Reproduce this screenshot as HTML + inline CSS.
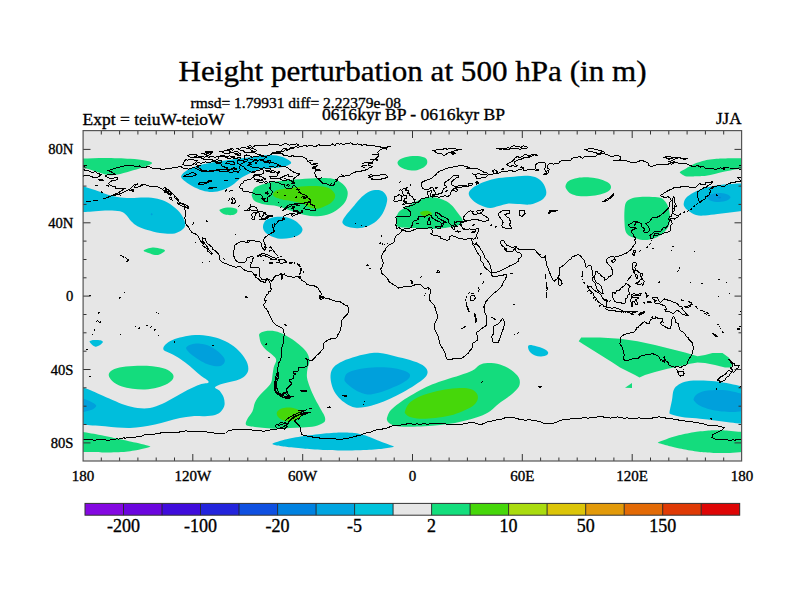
<!DOCTYPE html>
<html><head><meta charset="utf-8"><title>Height perturbation at 500 hPa</title>
<style>html,body{margin:0;padding:0;background:#fff;overflow:hidden}svg{display:block}text{font-family:"Liberation Serif",serif;fill:#000;stroke:#000;stroke-width:.35px}</style></head>
<body>
<svg width="800" height="600" viewBox="0 0 800 600">
<rect width="800" height="600" fill="#fff"/>
<defs><clipPath id="c"><rect x="83" y="131" width="659" height="330"/></clipPath></defs>
<rect x="83" y="131" width="659" height="330" fill="#e6e6e6"/>
<g clip-path="url(#c)">
<path fill="#14dc7d" d="M70 158.5C72.2 157.6 77.2 158.7 83 158.6C88.8 158.5 97.2 158 105 158C112.8 158 123.3 158.4 130 158.8C136.7 159.2 141.3 159.8 145 160.5C148.7 161.2 152.4 162 152 163.2C151.6 164.4 146.2 166.2 142.5 167.5C138.8 168.8 134.2 170 130 171.2C125.8 172.4 121.2 173.9 117.5 174.5C113.8 175.1 111.2 175.6 107.5 175C103.8 174.4 99.1 172.4 95 171.2C90.9 169.9 87.2 168.7 83 167.5C78.8 166.3 72.2 165.5 70 164C67.8 162.5 67.8 159.4 70 158.5Z"/>
<path fill="#00bedc" d="M70 183C72.2 178.7 78.8 185 83 186.2C87.2 187.4 91.3 188.8 95 190C98.7 191.2 101.2 192.5 105 193.7C108.8 194.9 113.3 196.3 117.5 197C121.7 197.7 125.4 197.9 130 198C134.6 198.1 140.4 197.4 145 197.5C149.6 197.6 153.8 197.9 157.5 198.7C161.2 199.5 164.2 200.6 167.5 202.5C170.8 204.4 174.8 207.3 177.5 210C180.2 212.7 182.4 216 183.7 218.7C184.9 221.4 185.6 224.1 185 226.2C184.4 228.3 182.1 229.9 180 231.2C177.9 232.4 175.8 233.4 172.5 233.7C169.2 234 164.2 233.6 160 233C155.8 232.4 151.2 231.1 147.5 230C143.8 228.9 140.2 227.7 137.5 226.2C134.8 224.7 133.1 223.1 131.2 221.2C129.3 219.3 128.1 216.7 126.2 215C124.3 213.3 123.5 211.9 120 211.2C116.5 210.4 109.6 210.4 105 210.5C100.4 210.6 96.2 211.2 92.5 211.5C88.8 211.8 86.8 211.9 83 212C79.2 212.1 72.2 216.8 70 212C67.8 207.2 67.8 187.3 70 183Z"/>
<path fill="#00a0dc" d="M150.6 214.2L151.7 213L152.8 214.2L151.7 215.4Z"/>
<path fill="#14dc7d" d="M143.7 250.5C144.3 249.6 149.6 247.8 152.5 247.5C155.4 247.2 159.1 248.2 161.2 248.7C163.3 249.2 165.2 249.8 165 250.7C164.8 251.6 161.7 253.5 160 254.2C158.3 254.9 156.9 255.2 155 255C153.1 254.8 150.6 253.8 148.7 253C146.8 252.2 143.1 251.4 143.7 250.5Z"/>
<path fill="#00bedc" d="M181.2 176.2C181.6 174.3 184.4 171.9 187.5 170C190.6 168.1 194.6 166.5 200 165C205.4 163.5 213.3 162.3 220 161.2C226.7 160.1 234.2 159.3 240 158.5C245.8 157.7 250 157.1 255 156.5C260 155.9 265.4 154.9 270 155C274.6 155.1 279 155.7 282.5 157C286 158.3 291.2 161.1 291.2 162.8C291.2 164.5 286 166.1 282.5 167C279 167.9 274.2 167.5 270 168C265.8 168.5 261.2 168.9 257.5 170C253.8 171.1 250.4 173.1 247.5 174.5C244.6 175.9 242.5 176.9 240 178.7C237.5 180.4 235.4 183.1 232.5 185C229.6 186.9 225.8 188.8 222.5 190C219.2 191.2 215.8 191.9 212.5 192C209.2 192.1 205.8 191.5 202.5 190.5C199.2 189.5 195.4 187.8 192.5 186.2C189.6 184.6 186.9 182.9 185 181.2C183.1 179.5 180.8 178.1 181.2 176.2Z"/>
<path fill="#14dc7d" d="M220 209.5C221.2 208.8 224.8 207.6 227.5 207.5C230.2 207.4 234.6 207.9 236.2 208.7C237.8 209.5 237.6 211.4 237 212.5C236.4 213.6 234.5 214.7 232.5 215C230.5 215.3 227 215.1 225 214.5C223 213.9 221.3 212.5 220.5 211.7C219.7 210.9 218.8 210.2 220 209.5Z"/>
<path fill="#14dc7d" d="M252 193.7C252.5 192.2 252.8 189.2 255 187.5C257.2 185.8 261.2 184.8 265 183.7C268.8 182.6 272.5 181.9 277.5 181.2C282.5 180.5 288.8 180 295 179.5C301.2 179 308.8 178.3 315 178.2C321.2 178.1 327.9 177.8 332.5 178.7C337.1 179.6 340 181.6 342.5 183.7C345 185.8 346.9 188.5 347.5 191.2C348.1 193.9 347.4 197.3 346.2 200C344.9 202.7 342.7 205.2 340 207.5C337.3 209.8 333.8 212.2 330 213.7C326.2 215.1 321.7 216 317.5 216.2C313.3 216.4 309.2 215.8 305 215C300.8 214.2 297.1 212.7 292.5 211.2C287.9 209.7 282.1 207.3 277.5 206.2C272.9 205.1 268.8 205.3 265 204.5C261.2 203.7 257.2 202.5 255 201.2C252.8 199.9 252.5 197.8 252 196.5C251.5 195.2 251.5 195.2 252 193.7Z"/>
<path fill="#46d70a" d="M273 193.7C273.4 192.5 274.7 190.9 277.5 190C280.3 189.1 285.4 188.6 290 188C294.6 187.4 300 186.5 305 186.2C310 185.9 315.8 185.8 320 186.2C324.2 186.6 327.5 187.3 330 188.7C332.5 190.1 334.4 192.6 335 194.5C335.6 196.4 334.9 198.2 333.7 200C332.4 201.8 330.2 203.6 327.5 205C324.8 206.4 320.4 208.3 317.5 208.7C314.6 209.1 312.5 208.3 310 207.5C307.5 206.7 305.4 204.8 302.5 203.7C299.6 202.6 295.8 201.9 292.5 201.2C289.2 200.5 285.4 200.2 282.5 199.5C279.6 198.8 276.6 198 275 197C273.4 196 272.6 194.9 273 193.7Z"/>
<path fill="#00bedc" d="M263 226.2C263.2 224.2 264.2 221.5 266.2 220C268.2 218.5 271.9 217.5 275 217C278.1 216.5 281.9 216.5 285 217C288.1 217.5 291.2 218.7 293.7 220C296.2 221.3 298.5 223.3 300 225C301.5 226.7 302.7 228.3 302.5 230C302.3 231.7 300.8 233.7 298.7 235C296.6 236.3 293.1 237.4 290 238C286.9 238.6 283.1 239 280 238.7C276.9 238.4 273.7 237.3 271.2 236.2C268.7 235.1 266.4 233.7 265 232C263.6 230.3 262.8 228.2 263 226.2Z"/>
<path fill="#00bedc" d="M342.5 221.2C342.9 219.6 344.5 217.3 346.2 215C347.9 212.7 350.2 210.2 352.5 207.5C354.8 204.8 357.5 201.2 360 198.7C362.5 196.2 365 193.9 367.5 192.5C370 191.1 372.5 190.2 375 190C377.5 189.8 380.5 189.9 382.5 191.2C384.5 192.4 386.4 195.2 387 197.5C387.6 199.8 386.9 202.3 386.2 205C385.4 207.7 384.2 211 382.5 213.7C380.8 216.4 378.7 219.1 376.2 221.2C373.7 223.3 370.6 225 367.5 226.2C364.4 227.4 360.6 228.1 357.5 228.2C354.4 228.3 351 227.6 348.7 227C346.4 226.4 344.7 225.5 343.7 224.5C342.7 223.5 342.1 222.8 342.5 221.2Z"/>
<path fill="#14dc7d" d="M397.5 162.5C397.7 161.2 399.1 159.8 401.2 158.7C403.3 157.6 406.9 156.6 410 156.2C413.1 155.8 417.3 155.8 420 156.2C422.7 156.6 425 157.4 426.2 158.7C427.4 159.9 427.6 162.1 427 163.7C426.4 165.2 424.5 166.9 422.5 168C420.5 169.1 417.7 170.2 415 170.5C412.3 170.8 408.7 170.1 406.2 169.5C403.7 168.9 401.4 167.9 400 166.7C398.6 165.5 397.3 163.8 397.5 162.5Z"/>
<path fill="#14dc7d" d="M396.3 217C396.8 215.7 397.9 212.7 399.5 211.2C401.1 209.7 405.3 207.5 407.5 206.2C409.7 204.9 412.9 203.1 415 202C417.1 200.9 420.4 199.4 422.5 198.7C424.6 198 427.9 197.4 430 197.3C432.1 197.2 435.2 197.5 437.5 198C439.8 198.5 443.9 199.9 446 201C448.1 202.1 450.9 204.4 452.5 206C454.1 207.6 456.2 210.7 457.5 212.5C458.8 214.3 461.3 217.2 462 218.7C462.7 220.2 463.4 222 462.5 223C461.6 224 458.5 225.3 456 226C453.5 226.7 448.3 227.6 445 228C441.7 228.4 436 228.7 432.5 228.7C429 228.7 423.2 228.3 420 228.2C416.8 228.1 412.6 228.1 410 228C407.4 227.9 403.8 227.8 402 227.6C400.2 227.4 398.4 227.1 397.6 226.6C396.8 226.1 396.4 224.9 396.2 224C396 223.1 396.1 221.5 396.1 220.5C396.1 219.5 395.8 218.3 396.3 217Z"/>
<path fill="#46d70a" d="M420 213C420 212.1 422.5 211.3 424 211C425.5 210.7 427.7 210.8 429 211.2C430.3 211.6 432 212.7 432 213.5C432 214.3 430.3 215.6 429 216C427.7 216.4 425.5 216.7 424 216.2C422.5 215.7 420 213.9 420 213Z"/>
<path fill="#00bedc" d="M468.7 193.7C468.7 191.7 470.2 189.9 472.5 188C474.8 186.1 478.8 184.1 482.5 182.5C486.2 180.9 490.4 179.6 495 178.7C499.6 177.8 505 177.5 510 177C515 176.5 520.8 175.7 525 175.7C529.2 175.7 532.1 175.9 535 177C537.9 178.1 540.7 180.3 542.5 182.5C544.3 184.7 545.5 187.8 546 190C546.5 192.2 546.5 194.2 545.5 196C544.5 197.8 542.6 199.6 540 201C537.4 202.4 533.8 204 530 204.5C526.2 205 521.2 204.1 517.5 204C513.8 203.9 510.6 203.4 507.5 203.7C504.4 204 501.6 205.3 498.7 206C495.8 206.7 493.1 208.2 490 208C486.9 207.8 482.9 206.3 480 205C477.1 203.7 474.4 201.9 472.5 200C470.6 198.1 468.7 195.7 468.7 193.7Z"/>
<path fill="#14dc7d" d="M565.5 186C565.8 184.5 566.7 182.3 568.7 181C570.7 179.7 574 178.6 577.5 178C581 177.4 586.1 177.2 590 177.5C593.9 177.8 597.9 178.6 601 179.5C604.1 180.4 607 181.8 608.7 183C610.4 184.2 611 185.7 611 187C611 188.3 610.5 189.8 608.7 191C606.9 192.2 603.1 193.7 600 194.5C596.9 195.3 593.5 195.8 590 196C586.5 196.2 581.9 196.4 578.7 196C575.5 195.6 573 194.7 571 193.7C569 192.7 567.9 191.3 567 190C566.1 188.7 565.2 187.5 565.5 186Z"/>
<path fill="#14dc7d" d="M624.5 210C624.8 206.7 624.9 204.4 626 202.5C627.1 200.6 628.7 199.6 631 198.7C633.3 197.8 636.4 197.3 640 197C643.6 196.7 649 196.8 652.5 197C656 197.2 658.8 197.1 661 198C663.2 198.9 664.7 200.7 666 202.5C667.3 204.3 668 206.2 668.7 208.7C669.4 211.2 670 214.6 670 217.5C670 220.4 669.8 223.5 668.7 226C667.7 228.5 665.6 230.7 663.7 232.5C661.8 234.3 659.8 235.8 657.5 237C655.2 238.2 652.5 239 650 239.5C647.5 240 645 240.2 642.5 240C640 239.8 637.3 238.8 635 238C632.7 237.2 630.3 236.7 628.7 235.5C627.1 234.3 626.2 233.2 625.5 231C624.8 228.8 624.7 226 624.5 222.5C624.3 219 624.2 213.3 624.5 210Z"/>
<path fill="#14dc7d" d="M679.8 172.3C679.9 171.4 684.2 169.4 686 168.4C687.8 167.4 692.8 164.4 695 163.5C697.2 162.6 702.1 161 705 160.4C707.9 159.8 716.5 158.9 720 158.6C723.5 158.3 732.4 158.2 735 158.2C737.6 158.2 739.7 158.2 742 158.2C744.3 158.2 753.5 157.2 755 158.2C756.5 159.2 756.5 165.8 755 167C753.5 168.2 744.6 168.2 742 168.6C739.4 168.9 734.8 169.6 732.5 170C730.2 170.4 724.8 171.5 722.5 172C720.2 172.5 714.8 173.9 712.5 174.4C710.2 174.9 704.8 175.9 702.5 176.1C700.2 176.3 694.5 176.5 692.5 176.5C690.5 176.5 687 176.8 685.5 176.3C684 175.8 679.7 173.2 679.8 172.3Z"/>
<path fill="#00bedc" d="M683.7 203.7C683.9 202.1 684.3 199.9 686 198C687.7 196.1 690.5 194.2 693.7 192.5C696.9 190.8 700.6 189.2 705 188C709.4 186.8 715 185.7 720 185C725 184.3 731.3 183.9 735 183.7C738.7 183.5 738.7 183.7 742 183.7C745.3 183.7 752.8 179.3 755 183.7C757.2 188.1 757.2 205.4 755 210C752.8 214.6 746.2 210.6 742 211C737.8 211.4 734.1 212 730 212.5C725.9 213 721.7 213.5 717.5 214C713.3 214.5 708.6 215.3 705 215.5C701.4 215.7 698.7 215.8 696 215C693.3 214.2 690.5 212.2 688.7 211C686.9 209.8 685.8 208.7 685 207.5C684.2 206.3 683.5 205.3 683.7 203.7Z"/>
<path fill="#00a0dc" d="M707.5 197.5C707.5 196.4 709.2 195.2 711 194.5C712.8 193.8 715.5 193.1 718 193C720.5 192.9 723.9 193.3 726 194C728.1 194.7 730.3 195.9 730.5 197C730.7 198.1 728.9 199.7 727 200.5C725.1 201.3 721.7 201.9 719 202C716.3 202.1 712.9 201.6 711 200.8C709.1 200.1 707.5 198.6 707.5 197.5Z"/>
<path fill="#0a86d8" d="M717.5 197.3C717.5 197 718.7 196.7 719.3 196.7C719.9 196.7 721 197.1 721 197.4C721 197.7 720.1 198.4 719.5 198.4C718.9 198.4 717.5 197.6 717.5 197.3Z"/>
<path fill="#00bedc" d="M70 383C72.2 376.8 79.7 386.3 83 387.5C86.3 388.7 87.2 388.8 90 390C92.8 391.2 96.2 392.8 100 394.5C103.8 396.2 108.3 398.2 112.5 400C116.7 401.8 120.8 403.7 125 405C129.2 406.3 133.3 407.5 137.5 408C141.7 408.5 145.8 408.7 150 408C154.2 407.3 158.3 405.5 162.5 403.7C166.7 401.9 170.8 399.3 175 397C179.2 394.7 183.3 392.1 187.5 390C191.7 387.9 196.5 385.8 200 384.5C203.5 383.2 208.7 383.6 208.7 382C208.7 380.4 203.1 377.6 200 375C196.9 372.4 193.3 368.9 190 366.2C186.7 363.5 183.1 360.8 180 358.7C176.9 356.6 173.9 355.1 171.2 353.7C168.5 352.2 164.7 351.4 163.7 350C162.7 348.6 163.5 346.7 165 345C166.5 343.3 169.6 341.3 172.5 340C175.4 338.7 178.8 337.8 182.5 337C186.2 336.2 190.4 335.1 195 335C199.6 334.9 205.4 335.4 210 336.2C214.6 337 218.6 338.3 222.5 340C226.4 341.7 230.4 343.7 233.7 346.2C237 348.7 240.2 352.1 242.5 355C244.8 357.9 246.6 361 247.5 363.7C248.4 366.4 248.6 369 248 371.2C247.4 373.4 245.7 375.4 243.7 377C241.7 378.6 238.9 379.6 236.2 380.5C233.5 381.4 230.2 381.8 227.5 382.5C224.8 383.2 222.1 383.7 220 384.5C217.9 385.3 215 386.4 215 387.5C215 388.6 218.6 389.5 220 391.2C221.4 392.9 222.9 395.2 223.7 397.5C224.4 399.8 224.9 402.7 224.5 405C224.1 407.3 222.8 409.5 221.2 411.2C219.6 412.9 217.7 414.2 215 415C212.3 415.8 208.8 416 205 416.2C201.2 416.4 196.7 415.9 192.5 416.2C188.3 416.5 184.2 417.2 180 418C175.8 418.8 171.7 420.1 167.5 421.2C163.3 422.3 159.2 423.6 155 424.5C150.8 425.4 146.7 426.1 142.5 426.7C138.3 427.3 134.2 427.9 130 428C125.8 428.1 121.7 427.8 117.5 427.5C113.3 427.2 109.2 426.5 105 426.2C100.8 425.9 96.2 425.7 92.5 425.5C88.8 425.3 86.8 425.1 83 425C79.2 424.9 72.2 432 70 425C67.8 418 67.8 389.2 70 383Z"/>
<path fill="#00a0dc" d="M186.2 347.5C186.7 346.4 188.9 345.1 191.2 344.5C193.5 343.9 196.9 343.4 200 343.7C203.1 344 206.9 344.8 210 346.2C213.1 347.6 216.3 349.9 218.7 352C221.1 354.1 223.7 356.8 224.5 358.7C225.3 360.6 224.7 362.4 223.7 363.7C222.7 364.9 221 366 218.7 366.2C216.4 366.4 212.9 365.8 210 365C207.1 364.2 203.9 362.7 201.2 361.2C198.5 359.7 195.9 357.9 193.7 356.2C191.5 354.5 189.2 352.6 188 351.2C186.8 349.8 185.7 348.6 186.2 347.5Z"/>
<path fill="#00a0dc" d="M70 396C72.2 393.8 79.7 397.8 83 398.7C86.3 399.6 87.8 400.1 90 401.2C92.2 402.3 95.8 404.1 96.2 405.5C96.6 406.9 94.2 408.6 92.5 409.5C90.8 410.4 87.8 410.8 86.2 411.2C84.6 411.6 85.7 411.9 83 412C80.3 412.1 72.2 414.7 70 412C67.8 409.3 67.8 398.2 70 396Z"/>
<path fill="#14dc7d" d="M108.7 375C108.7 373.1 110.2 371.3 112.5 370C114.8 368.7 118.3 367.7 122.5 367C126.7 366.3 132.5 365.8 137.5 365.7C142.5 365.6 147.9 365.7 152.5 366.2C157.1 366.7 161.7 367.4 165 368.7C168.3 369.9 171.2 372 172.5 373.7C173.8 375.4 173.8 377 173 378.7C172.2 380.4 170.1 382.2 167.5 383.7C164.9 385.2 161.2 386.5 157.5 387.5C153.8 388.5 149.2 389.3 145 389.5C140.8 389.7 136.5 389.2 132.5 388.7C128.5 388.1 124.5 387.4 121.2 386.2C117.9 384.9 114.6 383.1 112.5 381.2C110.4 379.3 108.7 376.9 108.7 375Z"/>
<path fill="#00bedc" d="M89.5 341.5C89.6 340.9 92.9 340.1 94 340C95.1 339.9 99.6 340.1 100.5 340.3C101.4 340.5 103 341.5 103 342C103 342.5 100.7 344.5 100 345C99.3 345.5 96.7 346.8 96 346.8C95.3 346.9 93.7 346 93 345.5C92.3 345 89.4 342.1 89.5 341.5Z"/>
<path fill="#14dc7d" d="M70 430C71.3 428 80 431.5 83 432C86 432.5 96.5 434.3 100 435C103.5 435.7 114 437.9 117.5 438.7C121 439.4 131.7 441.7 135 442.5C138.3 443.3 150.2 445.8 150.5 446.5C150.8 447.2 140.3 449.4 137.5 450C134.7 450.6 125.8 451.8 122.5 452C119.2 452.2 108 452.5 105 452.5C102 452.5 94.7 452.1 92.5 452C90.3 451.9 85.2 452 83 452C80.8 452 71.3 454.2 70 452C68.7 449.8 68.7 432 70 430Z"/>
<path fill="#14dc7d" d="M259.5 333.7C260.4 332.6 262.4 331.6 265 331.2C267.6 330.8 271.7 330.6 275 331.2C278.3 331.8 281.7 333.3 285 335C288.3 336.7 292.1 339.1 295 341.2C297.9 343.3 300.4 345.4 302.5 347.5C304.6 349.6 306.3 351.4 307.5 353.7C308.7 356 309.5 358.7 309.5 361.2C309.5 363.7 307.9 366 307.5 368.7C307.1 371.4 306.6 374.4 307 377.5C307.4 380.6 308.7 384 310 387.5C311.3 391 313.1 394.9 315 398.7C316.9 402.4 319.5 406.9 321.2 410C322.9 413.1 324.6 415.4 325 417.5C325.4 419.6 325.4 421.1 323.7 422.5C322 423.9 318.5 425.4 315 426.2C311.5 427 306.7 427.2 302.5 427.5C298.3 427.8 294.2 427.8 290 428C285.8 428.2 281.7 428.7 277.5 428.7C273.3 428.7 268.8 428.3 265 428C261.2 427.7 258.1 427.5 255 427C251.9 426.5 247.4 426.4 246.2 425C244.9 423.6 246.4 421 247.5 418.7C248.6 416.4 251.2 413.9 252.5 411.2C253.8 408.5 253.8 405.2 255 402.5C256.2 399.8 258.1 397.3 260 395C261.9 392.7 264.3 390.8 266.2 388.7C268.1 386.6 270.1 384.8 271.2 382.5C272.2 380.2 272.1 377.5 272.5 375C272.9 372.5 273.1 370 273.7 367.5C274.3 365 276.4 362.1 276.2 360C276 357.9 274.2 356.7 272.5 355C270.8 353.3 268.1 351.9 266.2 350C264.3 348.1 262.3 345.8 261.2 343.7C260.1 341.6 259.8 339.2 259.5 337.5C259.2 335.8 258.6 334.8 259.5 333.7Z"/>
<path fill="#46d70a" d="M277.5 411.2C278.4 410.1 280.4 408.8 282.5 408.2C284.6 407.6 287.5 407.3 290 407.5C292.5 407.7 295.5 408.6 297.5 409.5C299.5 410.4 301.6 411.7 302 413C302.4 414.3 301.4 416.2 300 417.5C298.6 418.8 296 419.9 293.7 420.5C291.4 421.1 288.5 421.5 286.2 421.2C283.9 420.9 281.5 419.7 280 418.7C278.5 417.7 277.4 416.2 277 415C276.6 413.8 276.6 412.3 277.5 411.2Z"/>
<path fill="#00bedc" d="M330.5 377.5C330.4 374.2 330.9 371.2 332.5 368.7C334.1 366.2 336.7 364.4 340 362.5C343.3 360.6 347.9 359 352.5 357.5C357.1 356 362.9 354.4 367.5 353.7C372.1 352.9 375.4 352.6 380 353C384.6 353.4 390 355 395 356.2C400 357.4 405.4 358.5 410 360C414.6 361.5 419.6 363.1 422.5 365C425.4 366.9 427.1 369.1 427.5 371.2C427.9 373.3 427.1 375.2 425 377.5C422.9 379.8 418.8 382.5 415 385C411.2 387.5 406.7 390.2 402.5 392.5C398.3 394.8 394.2 396.8 390 398.7C385.8 400.6 381.7 402.3 377.5 403.7C373.3 405.1 368.8 406.4 365 407C361.2 407.6 358.1 408.1 355 407.5C351.9 406.9 348.9 405.4 346.2 403.7C343.5 402 340.9 400 338.7 397.5C336.5 395 334.4 392 333 388.7C331.6 385.4 330.6 380.8 330.5 377.5Z"/>
<path fill="#00a0dc" d="M344.5 378.7C344.8 377.2 345.3 374.5 347.5 373C349.7 371.5 353.3 370.4 357.5 369.5C361.7 368.6 367.5 367.8 372.5 367.5C377.5 367.2 382.9 367.2 387.5 367.5C392.1 367.8 396.5 368.6 400 369.5C403.5 370.4 407.1 371.7 408.7 373C410.3 374.3 410.5 375.8 409.5 377.5C408.5 379.2 405.8 381.1 402.5 383C399.2 384.9 394.2 387 390 388.7C385.8 390.4 381.2 392 377.5 393C373.8 394 370.8 394.8 367.5 394.5C364.2 394.2 360.4 392.6 357.5 391.2C354.6 389.8 352 387.7 350 386.2C348 384.7 346.4 383.2 345.5 382C344.6 380.8 344.2 380.2 344.5 378.7Z"/>
<path fill="#00bedc" d="M272.5 443.7C273.4 443 281.5 440.4 285 439.5C288.5 438.6 298.1 436.9 302.5 436.2C306.9 435.5 318.1 434.1 322.5 433.7C326.9 433.3 336.2 432.6 340 432.5C343.8 432.4 351.8 432.6 355 433C358.2 433.4 364.6 435.2 367.5 436.2C370.4 437.2 377.4 440.2 380 441.2C382.6 442.2 388.4 444.4 390 445C391.6 445.6 394.6 446.3 393.7 446.7C392.8 447.1 385.8 448.3 382.5 448.7C379.2 449.1 369.4 449.8 365 450C360.6 450.2 349.7 450.5 345 450.5C340.3 450.5 329.7 450.2 325 450C320.3 449.8 309.4 449.1 305 448.7C300.6 448.3 290.7 447.4 287.5 447C284.3 446.6 279.2 445.9 277.5 445.5C275.8 445.1 271.6 444.4 272.5 443.7Z"/>
<path fill="#14dc7d" d="M387.5 416.2C388.1 414.5 389 412.1 390.9 410C392.8 407.9 395.9 405.6 398.7 403.5C401.5 401.4 403.9 399.8 407.5 397.6C411.1 395.4 415.8 392.5 420 390.3C424.2 388.1 428.3 386 432.5 384.3C436.7 382.6 440.4 381.4 445 379.9C449.6 378.4 455.4 376.9 460 375.3C464.6 373.8 469.2 372.3 472.5 370.6C475.8 368.9 477 366.3 479.5 365C482 363.7 484.1 363.1 487.5 363C490.9 362.9 496.1 363.3 500 364.5C503.9 365.7 508.1 367.8 511.2 370C514.3 372.2 517.3 375 518.7 377.5C520.1 380 520.1 382.7 519.5 385C518.9 387.3 517 389.1 515 391.2C513 393.3 510.2 395.4 507.5 397.5C504.8 399.6 501.6 401.4 498.7 403.7C495.8 406 493.1 409.1 490 411.2C486.9 413.3 483.8 414.7 480 416.2C476.2 417.7 471.7 418.9 467.5 420C463.3 421.1 459.6 422.2 455 423C450.4 423.8 445 424.5 440 425C435 425.5 430 425.9 425 426.2C420 426.5 414.6 426.7 410 426.7C405.4 426.7 400.8 426.7 397.5 426.2C394.2 425.7 391.8 424.7 390 423.7C388.2 422.7 387.4 421.2 387 420C386.6 418.8 386.9 417.9 387.5 416.2Z"/>
<path fill="#46d70a" d="M405 411.2C405.5 409.5 406.6 406 408.7 403.7C410.8 401.4 413.9 399.3 417.5 397.5C421.1 395.7 425.4 394.3 430 393C434.6 391.7 440 390.3 445 389.5C450 388.7 455.6 388.1 460 388C464.4 387.9 468.4 388.2 471.2 389.2C474 390.1 475.9 391.9 477 393.7C478.1 395.5 478.2 397.9 477.5 400C476.8 402.1 475 404.3 472.5 406.2C470 408.1 466.2 409.6 462.5 411.2C458.8 412.8 454.6 414.4 450 415.5C445.4 416.6 440 417.5 435 418C430 418.5 424.2 418.9 420 418.7C415.8 418.5 412.4 417.8 410 417C407.6 416.2 406.3 414.7 405.5 413.7C404.7 412.7 404.5 412.9 405 411.2Z"/>
<path fill="#00bedc" d="M528 347C528 345.8 528.6 345.1 530 345C531.4 344.9 533.9 345.6 536.2 346.2C538.5 346.8 541.7 347.7 543.7 348.7C545.7 349.7 547.5 350.9 548 352C548.5 353.1 548.1 354.2 547 355C545.9 355.8 543.2 356.4 541.2 356.5C539.2 356.6 536.9 356.2 535 355.5C533.1 354.8 531.2 353.4 530 352C528.8 350.6 528 348.2 528 347Z"/>
<path fill="#14dc7d" d="M578.7 341.2L581.2 337.5L600 337.5L620 338.7L637.5 341.2L655 345L670 348.7L685 352.5L697.5 356.2L705 355L712.5 353L722.5 353L728.7 357.5L732.5 362.5L731.2 367.5L725 367.5L715 365L705 363L697.5 362.5L690 363.7L680 366.2L667.5 368.7L655 372L645 375L639.5 377.5L635 375L627.5 371.2L620 367.5L612.5 362.5L602.5 356.2L592.5 350L583.7 344.5Z"/>
<path fill="#14dc7d" d="M625 387.8L632 383L632 388Z"/>
<path fill="#00bedc" d="M669.5 412.5C669.8 410.2 671.3 403.8 672 400C672.7 396.2 672.6 392.6 673.7 390C674.8 387.4 676.4 386 678.7 384.5C681 383 684 381.9 687.5 381.2C691 380.5 695.4 380.5 700 380.5C704.6 380.5 710 380.7 715 381.2C720 381.7 725.5 382.9 730 383.7C734.5 384.5 737.8 385.5 742 386.2C746.2 386.9 752.8 381.5 755 388C757.2 394.5 757.2 419.1 755 425C752.8 430.9 746.2 424.1 742 423.7C737.8 423.3 734.5 423 730 422.5C725.5 422 720 421.1 715 420.5C710 419.9 705 419.2 700 418.7C695 418.2 689.2 418 685 417.5C680.8 417 677.5 416.1 675 415.5C672.5 414.9 670.9 414.2 670 413.7C669.1 413.2 669.2 414.8 669.5 412.5Z"/>
<path fill="#00a0dc" d="M693.7 398.7C694.2 397.4 695.2 395.1 697.5 393.7C699.8 392.3 703.3 391.1 707.5 390.5C711.7 389.9 717.9 389.8 722.5 390C727.1 390.2 731.8 391.4 735 392C738.2 392.6 738.7 393.2 742 393.7C745.3 394.2 752.8 392.1 755 395C757.2 397.9 757.2 408.3 755 411C752.8 413.7 745.8 411 742 411.2C738.2 411.4 736.2 412 732.5 412C728.8 412 724.2 411.8 720 411.2C715.8 410.6 711 409.7 707.5 408.7C704 407.7 700.9 406.2 698.7 405C696.5 403.8 695.3 402.2 694.5 401.2C693.7 400.1 693.2 399.9 693.7 398.7Z"/>
<path fill="#14dc7d" d="M658 442.5C658.7 441.9 664.9 439.6 667.5 438.7C670.1 437.8 676.8 435.8 680 435C683.2 434.2 691.5 432.5 695 432C698.5 431.5 706.5 430.7 710 430.5C713.5 430.3 721.3 430.3 725 430.5C728.7 430.7 738.5 431.7 742 432C745.5 432.3 753.5 430.7 755 433C756.5 435.3 756.5 449.8 755 452C753.5 454.2 744.9 451.9 742 452C739.1 452.1 733.1 452.9 730 453C726.9 453.1 718.5 453.1 715 453C711.5 452.9 703.5 452.4 700 452C696.5 451.6 688.5 450.2 685 449.5C681.5 448.8 672.8 446.9 670 446.2C667.2 445.5 662.6 444.1 661.2 443.7C659.8 443.3 657.3 443.1 658 442.5Z"/>
</g>
<g clip-path="url(#c)" fill="none" stroke="#000" stroke-width="1" stroke-linejoin="round" stroke-linecap="square" shape-rendering="crispEdges">
<path d="M126 165.4L128.8 165.2L131.6 165.1L134.3 166.3L136.6 167L139.3 165.8L141.6 167.2L143.9 167.4L146.2 167.1L148.5 166.3L150.7 167.6L154.4 168.5L156.8 169L159.5 168.2L161.7 169.8L165.4 168.9L169 168.7L171.5 168.2L173.8 167L176.4 167.8L178.2 166.9L181.3 166.8L183.7 168.7L186.1 168.3L188.6 169.2L191 168.1L193.6 167.7L196 168.4L198.3 169.6L202 171.4L204.7 171.8L207.9 172L211.1 171.6L214.8 170.9L218.5 170.2L220.6 171.8L223.3 171.5L225.8 171.8L228.2 171.5L230.7 173L233.1 171.8L236.8 171.1L237.7 172.9L240.4 169.6L239.2 167.3L240.4 165L244.1 166.9L245 168.7L247.8 170.5L251.4 172.4L255.1 172.2L256.9 170L259.9 170.2L262.4 168.7L263.3 170.5L263.3 173.3L260.6 174.6L257.8 174.9L255.1 174.2L253.2 176.6L251.4 178.8L247.8 179.7L244.1 181L242.7 183.2L240.4 184.3L239.5 187.9L242.3 188.9L243.2 191.6L247.8 191.6L251.4 192.5L256.9 194.7L261.8 195.1L262.4 198.9L265.1 201.7L267.9 201.7L267.9 197.1L271.5 194.4L272.5 191.6L269.7 188.3L270.6 186.1L269.7 181.9L272 181.1L274.3 181.9L278 182.4L281.6 184.3L284.4 184.3L285.3 187.9L288 188.9L291.7 188.3L293.5 185.6L294.8 185.7L297.2 188L299 190.7L300.8 193.4L306.3 195.6L308.2 198L310.4 199.9L310 201.7L305.4 202.6L302.7 203.9L297.2 203.9L290.8 204.1L287.1 206.3L284.4 209L282.5 210.3L284.4 210L287.1 207.6L291.7 205.9L294.4 206.3L294.4 207.6L291.7 208.1L293.5 209L293.9 211.2L295.3 211.8L299 212.2L300.8 212.5L302.1 210.3L302.7 212L299.9 213.3L296.3 214.4L292.6 216.2L291.3 215.8L291.7 214.5L294.4 213.1L292.6 213.3L289.9 213.6L287.1 214.7L284.4 215.8L283.1 217.3L282.9 218.2L283.4 219.5L284.4 219.7L284.4 218.9L283.4 219.9L282.5 220L279.8 220.6L277 221.5L277 223.3L275.2 224.8L274.3 223.7L274.8 225.5L273.9 227.4L273 228.3L272.8 225.5L272.5 224.3L273 228.3L273.4 228.5L273.9 230.1L274.3 231.6L272.5 232.5L269.7 234L267.9 235.1L266.1 236.5L264.2 238.4L263.3 240.2L264.2 243L265.1 244.8L266.1 247L265.7 249.4L264.6 250.1L262.8 248.5L261.1 245.3L261.1 243L258.7 241.1L256 241.7L254.2 240.4L251.4 240.4L249.6 240.8L248.7 242.6L246.8 242.6L245 241.9L241.3 241.5L239.1 242.2L236.8 243.9L234.4 245.7L234.6 248.5L233.7 251.2L233.5 254.9L234.4 257.6L235.9 260.4L237.1 261.7L239.5 262.8L242.3 262.4L245 262.2L246.5 260.8L247 258L249.6 257.1L252.3 256.7L253.6 257.3L252.3 259.8L252 262.6L250.9 264.1L250.9 265.9L249.9 267L252.3 267.2L255.1 267L257.8 267.2L260 268.6L259.6 271.4L259.5 274.1L259.1 276L260.6 277.8L262 279.6L264.2 280L266.4 278.7L267.9 278.7L270.1 280.2L271 280.6L271.9 281.5L273.4 278.7L274.3 276.9L275.6 276L278.3 275.4L280.7 273.8L281.6 273.4L282 276L281.1 277.8L281.6 279.3L282.5 277.8L282.5 275.1L284.4 273.8L285.3 275.1L287.5 276.3L288 276.9L291.7 276.7L293.5 277.6L295.3 276.9L299 276.5L298.1 277.8L300.8 278.7L301.8 280.6L304.5 281.5L307.2 284.6L310.9 285.3L313.6 285.5L316.4 287L318.2 288.3L319.1 290.6L321 292.8L321 295.2L319.1 296.1L320.1 297.1L323.7 297.1L324.6 298L328.3 298.4L331 299.8L333.8 300.7L336.5 301.5L339.3 301.3L342 302.9L344.8 305L347.5 305.7L348.4 308.1L348.8 310.8L347.9 313.6L345.7 316L343.9 317.8L342 320L341.1 322.7L341.1 326.4L340.7 329.2L339.6 331.9L337.8 334.7L337.4 336.5L335.6 338.3L332.9 338.3L330.7 338.9L327.7 340.2L325 342L323.5 343.8L323.5 346.6L323.2 348.6L321 351.2L319.1 353.6L316.9 355.2L314.7 358L312.7 360L310 360.2L307.2 359.4L305.6 358.5L307.8 361.3L307.6 363.1L307.1 365.8L304.5 367.1L300.8 367.7L298.6 367.7L298.5 370.4L297.2 371.5L293.5 371.3L293.5 373.5L295.9 373.7L294.4 374.8L293 375.9L293 378.7L289.9 379.6L288.9 381.1L291.7 382.7L291.9 383.8L288.9 386.4L287.1 388.2L286.2 389.7L287.3 392.1L285.3 392.1L282.9 393L282.5 394.8L279.8 394.3L278 392.4L276.1 391.5L275.2 389.7L274.3 386L274.3 383.3L276.1 382L274.3 381.4L276.1 380.1L276.1 377.8L278 375.9L278.9 373.2L277.6 372.3L277.4 369.5L278 366.8L278 364.4L279.2 362.2L280.7 359.4L281.4 356.7L281.6 353.9L281.8 351.2L281.6 348.4L282.7 345.7L283.3 342.9L283.6 339.2L284 335.6L284 332.8L283.6 329.7L281.6 327.9L279.8 326.8L277 325.5L274.3 323.7L272.8 321.5L271.2 318.2L269.4 314.5L267.9 311.4L266.4 309L264.2 307.2L263.7 304.4L265.5 302.4L266.1 300.7L264.4 300.2L265.1 298L266.1 296.1L266.1 294.7L267.9 293.9L268.3 292.8L268.8 291.6L270.6 291.2L271.2 289.2L270.6 287L271 284.2L269.9 282.9L269.2 281.5L268.8 280L267 279.6L265.5 280.9L265.5 282.6L264.2 282.8L262.8 281.5L260.7 281.1L259.5 280.6L259.3 279.6L257.3 278.2L255.4 277.6L255.4 276L253.8 274.1L252.3 272.3L251.4 271.9L248.7 271.4L245.9 270.7L243.5 269.4L240.8 267L239 266.4L235.9 267.4L233.1 266.4L229.6 265.3L226.1 263.5L223 262.6L220.7 260.8L219.4 258.6L219.7 256.7L218.8 254.5L217 252.7L214.8 250.3L212.4 249.2L212.1 247.2L210.2 245.7L209.3 244.8L207.1 243L205.6 240.2L205.3 238.7L202.5 238L202.4 239.3L202.5 241.1L204.7 243.3L206.2 245.3L207.8 247.5L209.3 250.3L210.6 251.8L212.1 253.6L211.1 254.2L209.7 252.9L207.5 250.9L207.1 248.5L204.4 247L202.9 245.7L203.5 243.9L201.1 241.7L199.8 239.3L198.1 236.5L197.8 235.3L195.8 234.2L195.4 233.8L193.7 233.1L191.7 232.7L191.6 231.4L189.5 229.2L189.2 228.3L188.3 227L187.3 225.9L185.9 223.7L185 222.1L185.3 220L184.8 217.7L185.5 214.5L185.5 211.4L184.2 207.6L187.3 207.8L188.3 209L188.3 206.7L187 205.7L184.6 204.4L181.8 203.3L179.1 202.6L178.6 200.8L177.3 198L174.5 196.2L173.6 194.4L170.9 192.5L168.1 189.8L164.8 187.4L162.6 189.2L159.9 187.9L156.6 186.5L152.6 186.1L148.9 186.1L145.2 184.6L141.6 184.6L140.7 186.1L137.9 187L134.6 187.6L135.2 185.2L137.9 183.9L135.2 184.3L133.3 185.6L131.5 187.4L130 188.9L126.9 190.7L123.3 192.5L119.6 194L115.9 194.9L111.4 196L114.1 194.4L117.8 193.4L121.4 190.7L124.2 188.9L125.1 188.3L122.4 188.3L119.6 188.5L115.9 188.3L115.9 186.5L112.3 186.1L109.9 185L108.6 183.4L110.5 181.5L112.3 180.6L114.7 180.8L116.9 179.7L117.8 177.9L114.1 177.9L111.4 178.5L108.6 177.9L105 175.8L107.7 174.7L110 174.7L112.3 174.2L115.9 174.6L113.2 173.3L110.5 171.4L107.7 170.7L110.5 169.8L114.1 168.7L117.8 167.2L120.1 167.1L122.4 166.3L126 165.4ZM278.9 152.7L281.1 151.8L283.5 151.7L285.4 149.8L288 150.3L290.3 147.9L293.5 147.6L295.7 146.5L298.2 147.3L300.3 146.3L302.7 146.1L304.9 145.6L307.3 146.2L309.5 145.7L311.8 145.2L314.1 146.4L316.4 146.1L318.7 144.8L321 145.4L323.3 145.4L325.6 145.1L327.9 145.9L330.2 145.3L332.4 144L334.8 145.7L336.9 143.3L339.3 144.1L341.6 143.9L343.9 144.7L346.1 143.1L348.4 144L350.7 142.8L353 144.4L355.3 144.6L357.6 143.9L360 144.4L362.4 145.4L365 144.2L367.3 145.4L369.8 145.4L372.2 145.4L374.6 146L377.1 146.1L379.6 146.7L382.3 147.6L385 147.8L387.8 146.6L390.5 146.7L388.1 147L386.3 149.1L383.5 148.2L381.4 149.4L379.3 150.5L377.7 152.2L378.6 155.8L375.9 158.6L377.7 160.4L374.8 159.6L372.2 161.4L372.2 164.1L369.8 163.7L367.7 165L370.1 165.4L372.2 166.9L369.5 167.8L367.3 169.3L364.9 170.3L362.4 170.1L360.1 172.1L357.6 171.1L354.9 172.3L352.1 173.3L349.7 175.2L346.6 175.5L343.5 176.5L340.2 176L337.4 178.8L336.8 181.1L334.7 182.4L333.8 185.2L332 186.1L328.3 184.6L326.1 183.7L323.7 183.9L321 181.5L318.2 178.8L316.3 177.4L315.5 175.1L314.6 172.4L316.5 170.4L319.1 169.6L316.3 169.4L313.6 168.7L313.6 166.9L317.3 165.9L314.7 164.5L311.8 165L310 162.3L307.4 161.2L306.3 158.6L302.7 156.8L299.9 156.7L297.2 156.4L294.7 156.4L292.2 155.6L289.9 156.8L287.2 155.5L284.4 155.8L282.5 154L278.9 152.7ZM371.3 179L373.5 180L375.9 179.7L379.6 179.9L382.2 178.6L385 178.2L387.6 176.9L386 175.1L383.2 174.4L379.6 175.1L375.9 175.1L373.1 176L371.3 174.4L368.6 175.8L372.2 176.9L368.6 177.3L372.2 178.2L371.3 179ZM299.9 173.8L297.2 176L295.4 177.5L293.5 178.8L293.9 181L290.8 181L288 179.3L284.4 181L280.7 179.3L277 178L273.8 178.4L270.6 178.2L269.7 176L272.2 176.8L274.6 176.9L277 176L278 173.3L279.8 171.8L276.5 172.2L273.4 170.9L271 170.2L269.7 168.1L266.9 168.6L264.2 167.8L261 168.5L257.8 167.8L254.6 167.4L251.4 166.9L248.7 165L249.6 162.3L252.1 162.1L254.4 160.8L256.9 161L259.3 159.7L261.8 160.8L264.2 161L267 161.3L269.7 162.3L273.4 162.6L276.1 163.8L278.9 164.7L281.2 166.7L284.4 166.5L288 167.8L289.9 169.6L293.5 172L296.1 173.1L299 173.3L299.9 173.8ZM266.1 156.4L268.4 155.7L270.6 154.9L273.4 152.2L276.2 152L278.9 151.3L281.5 150.9L283.4 148.6L286.2 148.9L288.7 149.3L290.9 148.5L293.3 148.2L295.3 146.7L299 144.8L296.6 143.9L294.1 144.8L291.7 144.6L289.2 145.3L286.8 143.7L284.4 143.9L281.9 145.1L279.5 145.1L277 144.7L274.6 144.8L272.2 144.3L269.7 143.9L267.3 145.3L264.7 145.7L262.1 145.6L259.6 146L256.9 145.2L254.7 145.9L252.5 147.2L249.9 145.4L247.8 146.7L250.4 147.9L253.2 148.5L256.9 150.3L254.4 152.1L251.4 152.2L254.4 152.5L256.9 154L259.8 154.6L262.4 155.8L266.1 156.4ZM253.2 151.3L250.6 152.2L247.8 152.5L245 152.8L243.1 150.2L240.4 150.3L236.8 148.5L239.8 149.1L242.3 147.2L244.7 147.7L247.1 148.3L249.6 148.9L253.2 151.3ZM266.1 157.3L263.7 159.3L260.6 159.3L258.3 160.4L256 159.8L253.7 160.1L251.4 159.5L249 158.5L246.5 160L244.1 159L244.1 156.2L246.8 154.8L249.6 155.8L251.9 157.3L254.5 156.5L256.9 156.8L259.6 155.6L262.4 156.2L266.1 157.3ZM247.8 160.8L245 161.9L242.3 163.2L240 164.4L237.7 163.2L237.7 160.8L240 160.6L242.3 160.3L244.9 161.8L247.8 160.8ZM234.9 164.1L231.3 165L228.8 163.2L225.8 163.2L227.6 161L230.4 161.5L233.1 161L234.9 164.1ZM220.3 169.6L223 169L225.8 169.6L227.6 167.8L224.8 167.2L222.1 165.9L220.3 163.2L217.3 163.4L214.8 161.9L212.3 161.4L209.9 162.3L207.5 162.6L205.2 161.8L202.9 162.9L200.6 163.1L198.3 162.3L195.6 164.1L197.6 165.5L200.2 165.4L196.5 166.9L200.2 168.7L202 170.7L204.7 170.3L207.9 171.3L211.1 170.3L214 170.8L216.6 169.6L220.3 169.6ZM182.8 164.3L184.8 165.8L187.3 165.8L189.7 166L191.9 165L194.7 163.2L197.4 160.4L195 160.7L192.8 159.5L190.4 159.6L188 160.1L185.5 159.9L183.7 162.3L182.8 164.3ZM218.5 158.6L216.2 160.1L213.7 160.4L211.1 159.5L208.7 160L206.2 159.9L203.8 159.2L201.2 157.9L198.3 157.7L202 156L204.3 157.3L206.6 156L208.8 157.3L211.1 156.2L214.8 157.1L218.5 156.8L218.5 158.6ZM234.9 158.6L232.1 157.4L229.4 158.8L225.8 157.5L229.4 155.7L231.6 157.1L234 156.2L234.9 158.6ZM200.2 156.4L197.5 157.2L194.7 157.3L192.1 157.5L189.6 157L187.3 155.8L189.9 154.4L192.8 154.4L195.5 154.3L197.6 156L200.2 156.4ZM236.8 169.2L233.1 170.2L230.4 169.1L234 167.8L236.8 169.2ZM265.7 179.1L263 178.9L260.6 180.2L257.9 179.2L255.1 179.5L253.2 176.9L256.9 175.3L259.7 176.3L262.4 177.3L265.7 179.1ZM303.9 208.7L310 210.1L313.6 210.5L315.5 210.5L316 209L314.6 207.2L314.2 205.7L310.9 204.4L310.5 201.7L308.2 202.6L307.2 204.4L305.4 206.8L303.9 208.7ZM294.4 204.6L299 206.1L299.4 205.6L296.3 204.6L294.4 204.6ZM294.8 210.5L298.6 211.1L298.1 211.8L295.3 211.2L294.8 210.5ZM177.6 203L182.8 204.1L186.4 207.2L183.7 206.8L179.1 204.4L177.6 203ZM169 196.9L171.2 197.5L172.3 200.4L170 198.9L169 196.9ZM129.7 190.7L133.3 191.1L133.9 189.4L131.5 189.6L129.7 190.7ZM166.3 191.6L169 194.4L170.9 195.3L168.1 192L165.4 189.8M110.5 196.6L105.9 198L103.1 198.9M97.6 200.2L93.1 200.6M90.3 201.1L86.7 201.3M98.6 179.7L100.8 180.4L103.1 180.6L103.1 179.9L100.4 179.3L98.6 179.7ZM106.8 185.7L109 186.3L108.3 185.4L106.8 185.7ZM126.9 261.3L128.8 260.4L127.3 259.1L126.9 261.3ZM125.8 258L126.9 258.2M122.9 256.7L123.8 257.1M120.3 255.6L120.9 255.8M256.9 256L260.6 254L264.2 253.6L267.9 254.9L271.5 256.7L275.2 258.2L276.7 259.1L275.2 259.7L270.6 259.7L271.2 258.4L268.8 257.6L267 256.4L263.3 255.4L261.5 254.7L258.7 256L256.9 256ZM276.3 262L279.8 262.8L281.6 263.7L284.4 262.6L287.3 262L285.3 260.8L284.4 259.8L280.7 259.7L278.1 259.8L279.2 260.9L279.8 262L276.3 262ZM269.2 262.4L272.8 263L271.5 263.5L269.4 263L269.2 262.4ZM289.5 262.4L292.2 262.6L291.7 263.1L289.5 263.1L289.5 262.4ZM269.7 247.2L271.2 247.9M269.4 250.7L270.1 251.8M270.6 250.1L271.2 250.3M299.9 266.4L300.5 266.1M300.8 269.4L301.4 269M300.8 270.8L301.4 270.5M299.9 277.1L300.5 276.7M303.4 272.1L303.9 271.8M299.6 274L300.1 273.6M299.4 276.5L300.8 276.3L300.8 277.6L299.4 277.6L299.4 276.5ZM286.9 392.8L287.7 393.9L288.9 395.2L290.8 396.7L293.1 396.5L290.8 397.2L287.1 397.6L284.4 397.6L281.6 396.1L283.4 394.8L284 393.4L285.6 392.6L286.9 392.8ZM277 372.8L278 373.7L277.6 375.7L276.3 375.4L277 372.8ZM274.7 384.2L275.8 385.6L274.7 387.8L275.6 389.3L275.6 391.5L277.4 393.4L279.8 395.2L282.5 396.8L285.3 397.8M276.7 377.2L277.4 378.7L276.1 379.6M300.5 390.6L303.6 390.2L306.7 390.6L305.4 391.9L301.8 391.9L300.5 390.6ZM342.6 395.2L346.6 395.9L346.1 396.7L342.6 395.2ZM245 296.7L245.9 297.8L246.3 296.9L245 296.7ZM246.8 297.3L247.4 297.4M244.1 210.5L246.8 210.1L249 208.3L250.9 206.7L254.2 206.7L256.9 208.3L257.6 210.7L255.1 210.7L252.3 210.9L250.5 209.6L247.8 210.7L244.1 210.5ZM251.8 219.1L254.2 219.5L254.7 216.4L256 213.6L257.3 212.2L254.2 212.2L252.3 213.6L251.4 214.5L252.3 216.4L251.8 219.1ZM257.5 212L259.6 213.3L260 214.9L258.9 216L261.5 217.3L262.9 216.4L263.3 213.6L266.1 214.4L265.1 212.7L262.4 211.6L258.7 211.4L257.5 212ZM259.8 219.5L262.4 220L266.1 218.8L268.1 217.7L265.1 218L261.5 218.8L259.8 219.5ZM266.4 216.7L270.6 216.7L273 216.2L272.5 215.1L269.7 215.5L267.3 216L266.4 216.7ZM231.3 203.5L234 203.7L235.9 201.7L234 198.6L232.2 197.5L231.3 198.9L233.1 200.8L231.3 203.5ZM198.3 184.3L202 184.5L205.6 183.7L209.3 181.5L212.1 181L208.4 180.8L206.4 182.4L203.8 182.4L200.2 182.4L198.3 184.3ZM183.7 176.4L187.3 176.9L190.1 176.8L192.8 176L196.5 174.6L194.7 173.3L192.3 172.4L190.1 173.6L186.4 174.7L183.7 176.4ZM208.4 188.5L210.8 188.7L213 187.8L216.6 187.2L213 187L209.3 187.8L208.4 188.5ZM255.1 275.6L256.9 276L256.4 274.1L255.1 275.6ZM284.4 324.6L286.2 325.9L285.3 324.6L284.4 324.6ZM319.5 296.5L322.3 296.3L323.9 296.9L323.5 298.7L320.6 299.3L319.3 298L319.5 296.5ZM209.3 261.7L209.7 261.9M274.4 171.8L273.9 170.6L271.5 171L269.6 171.8L271.5 172.6L273.9 173L274.4 171.8ZM263.3 181.2L262.6 180L259.2 180.3L256.6 181.2L259.2 182L262.6 182.3L263.3 181.2ZM267.2 182.4L266.9 181.4L265.5 181.8L264.3 182.4L265.5 183.1L266.9 183.4L267.2 182.4ZM265.2 198.9L264.8 198.2L262.9 198.4L261.4 198.9L262.9 199.5L264.8 199.7L265.2 198.9ZM268.1 193.1L267.8 191.9L266.4 192.3L265.3 193.1L266.4 193.9L267.8 194.3L268.1 193.1ZM271 161.9L270.2 160.7L266.3 161.1L263.3 161.9L266.3 162.7L270.2 163.1L271 161.9ZM240.5 158.4L240 157.5L237.6 157.8L235.7 158.4L237.6 159L240 159.3L240.5 158.4ZM230.5 152L229.2 150.6L226.3 150.2L223.4 151.1L221.2 151.6L218.9 152L221.4 151.7L223.4 152.9L226.3 153.9L229.2 153.4L230.5 152ZM238.6 152.5L237.9 151.6L234.5 151.9L231.8 152.5L234.5 153.2L237.9 153.5L238.6 152.5ZM211.4 153.6L210.3 152.7L208 153.2L205.5 153L201.8 153.6L205.5 154.3L207.9 155.3L210.3 154.6L211.4 153.6ZM212.4 152L211.6 151.2L207.8 151.5L204.7 152L207.8 152.5L211.6 152.8L212.4 152ZM233.6 149.4L233 148.7L230.1 149L227.8 149.4L230.1 149.9L233 150.1L233.6 149.4ZM221.7 161.7L221.1 160.7L218.2 161L215.9 161.7L218.2 162.4L221.1 162.7L221.7 161.7ZM294.7 183.2L294.4 182.4L292.9 182.6L291.8 183.2L292.9 183.7L294.4 184L294.7 183.2ZM289.2 185.4L288.9 184.7L287.4 184.9L286.3 185.4L287.4 185.8L288.9 186.1L289.2 185.4ZM197.1 157.1L196.7 156.4L194.8 156.7L193.3 157.1L194.8 157.6L196.7 157.8L197.1 157.1ZM224.5 156.2L223.8 155.4L221 155.7L218.7 156.2L221 156.8L223.8 157L224.5 156.2ZM240.9 154.6L240.3 153.9L237.4 154.1L235.2 154.6L237.4 155L240.3 155.3L240.9 154.6ZM248.4 155.5L248 155L246.1 155.1L244.5 155.5L246.1 155.8L248 156L248.4 155.5ZM269.4 170.9L269 170.1L267.1 170.3L265.6 170.9L267.1 171.4L269 171.7L269.4 170.9ZM259.9 175.5L259.6 174.9L258.1 175.1L257 175.5L258.1 175.9L259.6 176.1L259.9 175.5ZM255.1 171.8L254.8 171L253.7 171.3L252.8 171.8L253.7 172.3L254.8 172.6L255.1 171.8ZM229.7 170L229.4 169.4L227.9 169.6L226.8 170L227.9 170.4L229.4 170.6L229.7 170ZM227.9 156.8L227.6 156.3L226.1 156.4L225 156.8L226.1 157.1L227.6 157.3L227.9 156.8ZM279.4 153.1L278.8 152.6L275.9 152.8L273.6 153.1L275.9 153.4L278.8 153.6M316.1 168.1L315.7 167.2L313.8 167.5L312.3 168.1L313.8 168.7L315.7 169L316.1 168.1ZM366.7 165.9L363.8 165.2L361.2 166.9L364.9 167.2M372.2 162.3L369.8 162.5L367.3 162.5L364.9 162.3L368.6 163.2L365.7 162.3L363.1 163.7M375.9 159.5L370.4 159.9M377.7 154.9L372.2 154.6M319.1 178.4L321.9 177.9M315.5 170.9L320.1 170.2M313.6 163.7L317.3 163.6M310 160.4L312.7 160.1M330.1 185.2L331 183.7M337.4 180.2L335.6 179.7M342.9 175.7L341.1 174.6M280.7 177.9L284.4 176L288 174.6L288.9 176.4L292.6 176.9M291.7 180.6L289.5 179.7L287.1 179.7L284.4 178.4M269.7 166.9L272.5 166.3L275.2 167.4L277.8 165.9L280.7 166.3M256.9 164.1L255.1 162.6L257.8 161.9M247.8 165.6L251.4 164.1L248.7 162.6M299 189.4L296.8 189.8M300.8 192L298.5 192.3M304.5 196.7L301.8 197.1M306.3 197.5L302.7 198L305.4 198.4M167.2 189.2L165.4 191.2L167.2 192.9L168.7 191.1L167.2 189.2ZM163.5 190.1L164.8 192.9L165.9 192.9L165.4 190.7L163.5 190.1ZM168.5 193.4L170.3 195.3L171.4 194.7L169.4 193.1L168.5 193.4ZM174 197.1L176.4 198.9L177.6 200.2M142.5 185.6L143.4 184.5M118.7 194.7L120.5 195.3M107.7 197.3L108.6 196.9M101.3 191.2L101.9 192.3M95.8 185.2L97.1 185.6M274.1 382L274.8 385.1L274.1 387.8L274.8 390.6L276.1 393L278.3 394.6L280.7 396.1L283.4 397.6L287.1 398.5L289.9 398.1M277 381.4L276.5 384.2L276.7 387.8L277.8 390.6L278.9 393L281.6 394.3L283.4 395.7L286.2 396.8L288.9 397M275.6 376.5L275.9 379L275.2 380.5M278.5 373.5L278.9 376.5L278.1 379.2L277.4 380.9M275 382.9L275.9 386.6L275.4 390.1L277 392.3L279.2 393.9L282.2 395.6M284.7 393.2L286.6 394.5L287.5 396.3L290.2 396.8M294.1 262.6L294.6 263M297 263L297.5 263.3M297.5 264.3L298.1 264.7M299.4 264.8L299.9 265.2M298.6 265.4L299.2 265.8M300.1 267.9L300.7 268.3M300.5 271.9L301 272.3M301 270.5L301.6 270.8M270.1 246.8L271.5 247.5L271.4 248.6M273 249.9L273.2 250.9L274.3 251.8M274.7 252.9L275.4 253.8M276.5 254.5L277.2 255.3M277.8 257.5L278.9 257.1M280.3 256.2L281.4 256.4M263.7 260.8L264 260.7M260.7 256.5L261.3 256.7M206 220L207.1 221.3L206.4 221L206 220ZM193.6 222.6L193.7 223M192.7 224.3L192.8 224.6M195.9 242.8L196 243.1M202.4 262.5L202.7 262.6M235.3 234L235.9 234.2M249 240.9L247.2 240.8L247.4 241.1M264.2 246.3L264.8 247.2M223 258.9L224.3 259.1M251 261.9L250.3 262.8M224.9 180.6L227.6 180.2M235.9 178.4L238.6 178.6M229.4 191.1L232.2 190.7M225.2 191.2L226.7 189.8M228.9 200.8L229.4 198.9M231.6 203.5L232.6 202.2M238.6 206.3L239.9 205.6M250.5 205.4L251 204.4M278 203L278.9 202.6M280.3 207.2L281.1 206.8M277 193.1L278 192.7M284.4 195.3L285.3 195.6M295.3 197.5L296.3 197.1"/>
<path d="M401.7 230.5L402.8 230.3L407 231.4L408.8 231.8L412.5 230.5L415.2 229.2L418 228.5L421.7 228.7L425.3 228.3L429 227.9L430.8 227.7L432.6 228.3L431.7 229.6L432.3 231L432.6 232.9L430.8 233.8L432.3 234.5L433.6 235.3L435.4 236L437.2 235.8L440.3 236.9L440.9 238.4L443.6 239.3L447.3 240.6L449.1 239.3L449.1 236.9L451.9 235.8L454.6 236.4L458.3 238L461.9 238.7L465.6 239.5L468.3 238.6L471.1 238.7L471.6 238.9L473.8 239.1L475.1 238.7L476.2 236.5L476.9 234.7L478 232L478.4 230.1L478.8 228.8L476.6 228.8L474.7 229.6L472 229.9L469.2 228.7L468.3 229.6L466.5 229.8L464.7 228.7L462.8 228.3L461.9 226.5L461 225.5L461.4 224.1L460.5 223.5L460.6 222.4L462.8 222.1L465.6 221.9L466.5 221.3L463.8 221L461.9 221.1L460.5 221.7L458.3 221.1L456.4 221.5L455.5 222.4L456.4 222.8L454.6 221.9L454.1 222.8L454.6 224.3L455.5 225.5L456.4 226.5L455.5 226.8L454.6 227.4L455 229.2L453.7 229.2L452.8 228.7L451.9 227.4L451.5 225.9L454.6 226.1L451.5 225.7L450.9 224.6L449.1 223.2L448.2 221.9L448.2 219.7L446.4 218.2L443.6 216.7L441.8 216.2L440 214.5L439 213.1L437.8 213.8L437.4 212.5L435 212.9L435 214.5L437.2 216.2L438.1 218.2L440.3 219.3L441.8 219.3L441.8 220.2L444.5 221.3L446.4 222.6L446 223.2L443.6 221.9L442.9 223.3L443.8 224.6L442.7 225.5L441.8 226.6L441.1 226.3L441.8 224.8L441.1 222.8L439.6 221.7L438.1 221.3L436.3 220.4L434.8 219.5L432.6 218.2L431.7 217.3L431.2 215.6L429 214.7L427.1 215.6L426.2 215.8L424.4 217.1L421.7 216.6L419.8 216.4L418.4 216.9L418 218.4L418.4 219.3L416.2 220.4L414 221L412.5 222.8L412 223.7L412.5 225L411.2 226.5L411.2 227.2L408.8 228.7L406.1 228.8L404.3 228.8L402.8 229.8L402.2 230.1L401 229L400.1 228.1L398.8 227.9L396.4 228.3L396.4 225.5L395.1 225.2L396 223.7L396.4 221.9L396.4 219.5L396 218.2L395.7 217.1L397.9 216L401.5 216.2L405.2 216.6L408.8 216.7L409.8 216.4L410.3 214.5L410.5 212.3L410.1 211.4L408.8 210.3L407.9 209.4L407 208.9L404.4 208.5L403.9 207.4L406.1 206.7L408.8 207L409.8 206.8L409.2 205L410.3 205.2L412.5 205.6L412.9 205L415.2 204.1L415.6 202.8L417.1 202.4L418.9 201.9L419.8 200.8L421.1 199.1L422.6 198.4L425.3 198L427.1 197.8L428.4 197.3L428.4 195.6L427.5 194.4L427.5 192.5L427.7 191.6L429.9 191.2L431.7 190.3L431.7 192.5L430.8 193.4L430.4 194.4L430.3 195.3L430.8 196.2L432.6 197.1L434.5 196.7L436.3 196.4L438.1 197.1L439 197.3L441.8 196.6L445.4 195.6L446.7 196.4L448.2 196.4L449.1 195.5L450.9 194.7L450.9 192.5L451.9 190.7L453.7 190.3L455.5 191.6L457 191.2L457 189.2L455.5 188.5L455.5 187.6L458.3 187L461.9 187L463.8 186.7L467.4 186.1L465.6 185.7L463.8 185.2L460.1 185.4L457.3 186.1L454.6 186.3L453.7 185.6L451.9 185L451.5 183.4L451.9 181.5L453.7 179.7L456.4 177.9L458.8 176.9L458.8 176L456.4 175.5L453.7 175.5L451.9 176.9L451.3 178L450 179.3L447.3 180.6L445.4 181.9L444.5 183.4L444 184.8L445.4 185.7L446.9 186.5L446 187.4L443.6 188.5L442.7 190.7L442.2 192.5L441.4 193.3L439 193.4L438.5 194.5L436.3 194.5L435.7 193.1L434.5 191.6L433.6 189.8L433 187.9L431.9 187L431.4 187.6L429.9 188.3L428.1 189.4L425.3 189.8L422.9 188.5L422 187L421.7 184.3L421.7 182.4L424.4 181L428.1 179.7L430.8 178.8L432.6 177.3L435.4 175.1L437.2 172.9L440 171.1L442.7 170L445.4 168.7L449.1 167.8L452.8 167L456.4 166.1L460.1 165.9L463.8 165.9L467.4 166.9L469.2 167.2L466.5 168.1L469.2 168.5L472.9 168.9L475.7 168.1L478.4 169.2L482.1 170.9L484.1 172.5L486.6 172L487.6 173.6L485.7 174.7L482.1 174.9L479.4 173.7L476.6 174L472.9 174L472 173.3L474.7 174.9L476.2 176.6L476 177.9L478.4 178.8L481.1 178.2L482.1 177.3L485.7 177.7L486.3 176.6L488.5 174.7L491.2 174.6L493 174.2L493.6 172.4L492.1 170.5L494.5 169.9L496.7 171.1L497.6 172.2L494.9 173.3L498.5 173.6L500.4 172.2L504 171.3L506.9 171.5L509.5 170.2L512.3 170.9L514.7 171.9L516.8 170.3L520.5 169.6L523.2 168.3L523.2 170.5L526.5 170.2L529.7 169.1L533.3 169.2L535.1 170L537.9 170.9L538.8 169.6L535.1 168.7L535.1 166.9L535.1 165L538.8 162.6L542.5 162.3L545.2 163.2L545.8 165.9L544.8 168.7L545.2 170.5L547 172.4L543.4 174.2L546.1 174.2L548.9 172.4L548 170.5L549.8 169.6L547 167.8L548 165L549.8 163.2L553.5 164.1L555.3 163.6L558.9 163.2L559.9 161.4L562.1 160.7L564.4 160.8L567.6 160.7L570.8 160.4L571.8 158.6L574.3 157.2L577.2 157.7L579.5 156.1L582.3 158.3L584.6 156.8L587 157L589.5 156.6L591.9 156.4L594.9 156.8L597.4 154.9L600.1 154.1L602.9 153.6L606.5 154.2L608.4 155.3L610.8 156.3L613.2 156.3L615.7 155.5L618.2 155.4L620.3 156.8L620.3 159.5L617.2 160.6L613.9 160.4L617.5 161L620.3 160.4L623 161L626.3 160.8L629.4 161.9L632.6 162.3L635.8 162.3L639.5 161L642.3 160.6L645 161.5L648.6 163.2L648.6 165.9L652.3 166.3L656 165L658.7 164.7L661.5 164.8L664.7 164L667.9 165L668.8 163.2L671.6 164.1L674.3 162.8L677.1 162.7L679.8 163.4L683 163.4L686.2 163.7L688.9 165L691.7 166.1L694.9 166.2L698.1 165.8L700.7 167.1L703.6 166.3L705.4 168.3L708.1 168.7L710.4 168.3L712.7 168.3L715.4 169.5L718.2 168.5L720.9 167.8L724.6 169.6L723.7 167.8L726.4 167.9L729.2 168L731.9 168.1L734.7 168.1L738.3 168.9L742 169.6M83 169.6L85.7 170.3L88.5 170.9L92.2 172.4L95.1 171.6L97.6 173.3L101.3 174.7L99.5 176L96.7 177.9L94 177.7L90.3 176L86.7 175.8L83.9 175.1L83 176.6M742 176.6L739.3 177.9L737.4 177.3L740.2 180.1L741.1 181.5L738.8 181.6L736.5 181.5L733.9 182.8L731 182.8L727.4 184.3L724.6 186.1L722.1 186.6L720 185.2L716.4 186.1L712.7 186.1L711.8 187.9L709 189.8L710.9 190.3L710.5 192.2L709 193.1L709 195.3L705.4 197.1L705.4 198.6L702.6 200.2L699.9 202.6L699.3 201.7L698.1 198L697.3 195.3L697.5 192L699.9 190.1L703.6 187.9L706.1 187.3L708.1 185.6L711.8 183.4L712.7 181.5L709 183L705.8 182.8L705.4 185L702.2 184.8L699.3 183.4L697.8 185.2L696.2 187L692.6 187.8L688.9 187L685.3 186.7L682.5 186.5L679.8 187.2L677 187.2L674.3 187.4L671.7 189.2L668.8 190.3L665.1 192.5L660.2 195.6L663.3 196.7L664.2 197.8L667.9 196.7L670.6 198.4L671.3 200.4L669.7 202.6L669.7 205.4L668.8 207.8L666 210.3L663.3 213.1L660.5 215.5L656.3 217.7L654.1 216.9L651.9 218.2L650.5 220L649.9 221.3L647.7 222.8L645.9 223.7L647.5 225.5L649.2 228.3L649.6 230.5L648.6 231.8L645.9 232.5L644.1 232.9L643.9 231L644.4 228.8L643.1 227.4L641.3 226.5L641.3 223.7L639.9 222.8L636.7 221.7L634.9 224.6L634.5 225L635.8 221.9L634 221.1L631.3 223.7L628.5 224.3L628.1 225.5L630.3 227L632.2 227.4L634.9 227.4L636.7 228.3L634 229.2L632.2 230.1L630.9 232L633.1 234.3L634 236.5L635.5 237.8L635.5 239.5L634 240.2L635.8 241.5L635.1 243.9L633.6 245.7L631.8 248.5L630.3 250.3L628.5 251.4L626.1 253.4L623 254.5L621.2 255.3L619.4 255.8L616.6 256.7L614.8 257.1L613.9 258.9L614.6 257.6L613.3 256.7L611.1 256.4L608.4 257.6L606.5 259.5L606 261.3L607.5 263.1L609.3 265.3L611.1 267.2L612.4 270.5L612.6 273.2L612 275.1L610.2 276.3L608.4 277.1L607.5 278.7L604.7 280.2L604.3 277.8L602.9 276.9L601 275.6L600.1 274.1L597.9 272.9L597.2 271.6L595.9 271.8L595.6 273.2L594.6 276L594.1 278.7L595.6 280.6L596.5 282.8L598.3 283.7L600.1 285.1L601.6 287L602 288.8L602 291L603.2 293.4L602 293.6L600.1 292.1L597.9 290.6L597 288.8L596.1 286.1L595.7 284.2L594.6 282.4L592.8 281.1L592.4 279.6L593.2 276.9L592.8 274.1L592.3 271.4L591.9 269L591.3 266.4L590.1 265.3L588.2 265.9L587 267.2L585.1 266.8L585.5 264.1L584.6 261.3L583.7 259.5L581.5 257.6L580.5 255.3L578.2 254.7L575.4 255.8L573.6 256.2L571.8 257.3L571.2 259.1L569 260L566.3 262.6L563.2 265.5L561.3 266.8L559.5 267.7L559.1 270.8L559.5 273.8L558.6 276.9L557.1 278.7L555.6 279.8L554.4 281.3L552.5 279.6L551.6 276.9L550.3 274.1L549.2 271.4L548.5 268.6L547 265.9L546.1 262.2L545.8 259.5L545.4 257.3L545.2 255.4L544.3 257.6L542.1 258L539.2 255.4L540.6 254.3L538.8 254.3L537.3 252.7L535.7 250.9L534.2 249.4L530.6 249.7L526.9 249.9L524.2 249.9L520.5 249.4L517.4 248.8L516.3 246.6L513.2 247.2L511.3 247.2L509.5 246.3L506.8 245.2L504.9 243L504 241.1L501.8 240.6L500.4 241.5L500.7 243.3L501.8 245.3L504 247.2L504.4 248.8L505.5 250.7L506.2 248.5L507 250.3L506.8 251.6L509.5 252L512.3 251.6L514.1 249.4L515.6 247.9L515.7 250.3L516.3 251.6L519.6 252.9L522 254.9L520.5 257.6L518.7 258.6L518.1 261.3L515.9 263.1L513.5 264.4L510.4 265.5L508.1 266.8L504.9 268.5L502.2 269.9L499.5 271.2L495.8 272.3L494 272.9L492.1 272.9L491.6 271.4L490.8 268.6L490.7 265.9L489 263.1L487.2 260.4L484.8 257.6L483.9 254.9L482.6 252.1L480.6 249.4L479.3 246.6L477.1 244.8L476.2 242.4L475.1 245.2L473.3 243.3L472.2 241.3L472.4 243.9L473.8 245.7L474.7 247.5L476.6 251.2L477.7 253.1L479.9 255.8L480.6 258.6L481 261.3L483 263.1L484.4 266.8L485.7 268.6L487.9 269.6L490.3 272.3L491.6 273.2L491.8 275.1L493.6 276.9L496.7 276.3L500.4 275.6L504 274.9L506.2 274.3L506.2 276.9L505.5 279.1L503.7 281.8L502.2 285.1L500.4 287.9L497.6 290.6L494.9 292.5L492.1 294.9L489.4 297.6L487.6 299.8L486.1 301.3L485 303.9L483.9 306.2L483.5 307.7L484.8 309L484.6 311.7L485.4 314.5L486.6 315.6L486.8 319.1L487 322.7L486.3 325.5L483.9 327.3L481.1 328.8L479.3 330.6L476.6 332.5L476.2 333.7L477.3 335.6L477.5 338.3L477.3 340.2L474.7 342L472.5 343.5L472.7 345.7L472 348.4L469.8 350.8L468 353.4L464.7 356.3L461.9 358L459.5 358.5L456.4 358.7L452.8 358.9L449.1 360L446.4 358.9L446 356.7L445.8 354.8L444.5 352.1L443.3 349.3L441.4 346.6L440 343.8L439 340.2L438.9 337.4L437.2 334.7L435.4 331L434.1 328.2L434.1 325.5L435 322.7L436.8 319.6L437.8 316.3L436.7 312.7L435 307.5L434.8 306.8L433.6 304.4L431.7 302.6L429.9 300.4L429 298L429.5 295.6L430.1 293.4L430.4 290.6L429.9 288.8L428.4 287.9L426.2 288.1L424.4 288.3L422.6 286.4L420.7 284.8L418 284.4L415.2 284.8L412.5 285.7L409.8 287L407 286.8L404.3 286.6L401.5 287.3L398.8 288.1L396.9 287L395.1 285.5L392.4 283.9L389.6 282.4L388.3 280.6L387.8 278.7L385.8 276.9L385 276L383.2 274.5L381.9 273.2L381.7 271.4L380.5 269.2L381.7 267.7L382.3 265.9L383.2 263.1L382.7 260.4L381.4 257.6L381.7 255.4L383.2 252.7L385.4 249.9L386 247.9L388.2 245.7L388.9 245L392 243.5L394.2 242L394.7 240.2L394.6 238.4L395.7 236.5L397.3 234.9L399.7 233.8L401.2 231.6L401.7 230.5M471.6 238.9L472.2 241.3M465.6 220.6L469.2 220.6L472.9 219.1L476.6 219.1L479.3 220.4L482.1 221L485.7 221L488.5 220L488.5 218.2L485.7 216.4L483 214.9L481.1 213.6L480.2 213.1L482.1 211.8L483.9 209.6L481.1 210L476.6 211.2L477.5 213.1L479.3 213.3L476.6 214L473.8 214.5L472 212.7L473.8 211.8L470.2 210.9L468.3 211.8L466.9 213.1L465.2 214.5L463.8 216.7L463.4 218.2L463.8 219.5L465.6 220.6ZM498.5 213.6L502.2 210.9L505.9 210L509.5 210.3L509.5 213.1L506.8 213.6L505.9 214.5L504.6 214.5L506.8 216.9L509 218.2L509 220L511 221L510.4 222.8L509.5 224.6L511.3 227.4L511 228.7L507.7 229L504.4 227.7L502.2 227.2L501.8 225.5L503.1 222.2L502.2 220L500.4 218.2L499.5 216.4L498.5 215.5L498.5 213.6ZM519.6 210.9L524.2 210.9L525.1 213.6L522.3 216.2L519.6 215.8L519.6 213.3L519.6 210.9ZM548 213.6L549.8 210.7L553.5 210.7L557.1 210.5L555.3 211.4L550.7 211.8L548.9 213.6L548 213.6ZM602.9 201.7L606.5 200.8L610.2 198.4L613.3 195.3L613.5 193.8L611.1 196.2L607.5 198.9L603.8 201.1L602.9 201.7ZM468.3 186.1L471.1 185.7L472.9 184.3L471.1 183L468.3 183.9L468.3 186.1ZM476.6 184.3L478.4 183.4L477.5 181.5L475.7 182.4L476.6 184.3ZM435.4 188.9L437.8 187.6L436.7 187.4L435.4 188.1L435.4 188.9ZM470.5 298L471.1 295.6L474.7 295.6L475.3 298L473.8 300.7L471.1 300.9L470.5 298ZM466.1 302.6L466.9 305.3L468.9 310.8L469.2 312.1L467.4 308.1L466.1 305.3L466.1 302.6ZM474.7 313.8L475.8 316.3L476.6 321.8L475.8 322.4L475.3 318.2L474.7 315.4L474.7 313.8ZM402.4 204.3L406.1 203.9L408.8 203.2L412.5 203L414.9 202.2L414.3 201.3L415.6 199.5L413 198.9L413 198L412.1 196.7L410.1 195.6L409.4 194L407.9 193.4L407 193.4L408.5 192L408.8 190.5L406.1 190.3L405.2 190.5L406.6 188.9L403.3 188.7L401.9 190.3L402.1 192.2L402.4 193.8L403.7 194.4L403.3 195.6L406.1 195.5L407 197.1L406.8 198.2L404.3 198.4L404.8 199.3L403.7 200.8L403 201.1L406.1 201.9L407 202.1L404.6 202.4L402.4 204.3ZM401.2 198.4L401.5 200.4L400.8 200.4L397.9 201.1L394.6 201.7L393.8 200.4L395.1 198.9L394.2 196.7L396.9 196.2L397.5 195.1L399.7 194.9L401.5 195.3L402.4 196.2L401.2 197.5L401.2 198.4ZM399.1 191.2L401 189M406.6 187.9L407.6 187.6M409.8 186.1L410.7 185M399.3 182.4L400.4 181.9M432.6 194.7L435.4 193.8L434.8 195.3L433 195.6L432.6 194.7ZM445.8 191.6L447.3 190L446.9 191.1L445.8 191.6ZM452.8 189.6L454.6 188.7L453.3 188.7L452.8 189.6ZM432.6 150.3L435.1 150.1L437.5 149.9L440 149.4L442.3 150L444.5 148.1L446.8 149.2L449.1 148.9L451.6 148.3L454 148.4L456.4 149.1L459.1 150L461.9 149.4L459.5 149.8L457 150.1L454.6 150.7L450.9 152.2L448.4 152.5L446.4 154L443.6 155.7L441.7 153.8L439 154L436.3 152.5L432.6 150.3ZM450.9 152.5L453.2 152.7L455.5 153.1L452.8 154.4L450.9 152.5ZM496.7 148.5L499.1 149L501.6 148.9L504 149.1L506.3 149L508.6 149.5L510.9 148.8L513.2 148.9L515.5 148.8L517.8 148.5L520.1 149.6L522.3 148.3L525.1 148.5L527.8 147.6L525.7 146.3L523.4 145.8L520.9 147.3L518.7 146.3L516.5 146.4L514.1 145.7L512 146.2L510 148.3L507.7 147.6L505.6 148.8L503.3 148.1L501.2 149.3L499 149L496.7 148.5ZM506.8 164.8L510.4 166.5L512.8 165.5L515 166.7L517.8 165.9L514.1 163.6L515 161.4L518.7 159.5L521.6 159L524.2 157.7L526.7 157.9L529.2 157.7L531.5 156.2L534.6 154.9L537.9 155.3L535.6 154.6L533.3 154.9L531.1 154.8L529 156.4L526.6 154.8L524.4 154.9L522.3 156.4L520.1 157.7L517.2 156.5L515 158.2L512.3 161.4L508.6 163.2L506.8 164.8ZM501.3 169.6L504 169.2L502.7 168.7L501.3 169.6ZM520.5 167.8L523.2 167.4L521.4 166.9L520.5 167.8ZM588.2 151.3L590.7 151.4L593.1 152.1L595.6 152.5L597.9 153.7L600.2 153.2L602.4 151.4L604.7 152.2L601 150.3L598.3 150.1L595.6 149.4L592.8 148.7L590.1 148L587.4 149.1L584.6 149.4L588.2 151.3ZM663.3 158L666.2 157.8L668.8 159.2L671.2 158.5L673.7 159.4L676.1 158.6L678.8 157.4L681.6 158.7L684.3 158.4L687.1 158.6L684.5 159.5L682.1 158.3L679.8 157.5L677.5 157L675.2 157.1L672.8 158.1L670.6 156.8L667.9 156L665.6 156.9L663.3 158ZM668.8 161.4L671.4 162.8L674.3 161.9L672.4 160.6L668.8 161.4ZM739.3 165.8L742 166.1M83 166.1L86.7 165.9L84.8 165L83 165M742 165L740.2 165L739.3 165.8M435.4 226.5L437.2 226.1L441.1 226.1L440.3 228.3L440 228.8L436.3 227.7L435.4 227.2L435.4 226.5ZM427.5 224.6L429 224.4L430.3 224.1L430.3 221L429 220.6L427.5 221.3L427.5 224.6ZM428.2 219.5L429.5 220.2L429.9 218.8L429.7 217.3L428.4 218.2L428.2 219.5ZM455.5 231.4L457.3 230.9L460.6 231.4L458.3 232.1L455.5 231.4ZM471.6 232.3L474.2 232.5L475.7 230.9L472.9 231.4L471.6 232.3ZM416.9 223.7L418.7 223.2L418.2 224.1L416.9 223.7ZM463.4 229.8L464.1 229.4M455.5 224.8L457.3 226.3M460.1 224.3L461 224.6M510.3 273L512.3 273.2M558.9 278.4L561.1 280.6L562.2 283.3L560.8 285L558.9 285.1L558.6 281.5L558.9 278.4ZM611.5 260.9L612.9 262.6L614.8 261.7L615.7 260L613.9 259.5L611.5 260.9ZM632.5 254L634 255.8L634.9 253.1L635.5 250.3L634 250.3L632.5 254ZM650.8 238.7L652.7 238.6L653.8 236L654.1 234.3L656 235.6L658.2 235.1L659.1 234.2L660 234.3L661.1 234.7L662.9 233.2L665.5 232.7L666.6 232L668.4 232L670.2 230.7L670.2 228.3L670.6 225.9L672.1 223.7L671.5 220.4L669.3 220.6L668.8 222.8L668.4 224.6L666.9 226.5L665.5 228.1L663.3 227.7L662.7 228.7L661.5 230.1L661.1 231L657.8 231L655 231.2L652.9 232.9L652.1 233.8L650.5 234.7L649.9 235.6L650.8 236.5L650.8 238.7ZM668.8 220L670.6 219.5L671 218.2L674.3 219.1L677 217.3L678.8 216.7L677.9 215.5L675.2 214.9L672.4 212.9L671.9 214.5L671.5 216.4L669.7 216.9L668.8 218.2L668.8 220ZM654.5 234L658.7 233.2L658.9 234.2L656.9 235.6L655 235.6L654.5 234ZM672.4 211.8L674.8 210.5L673.9 209L674.6 205.9L677 206.3L674.8 202.6L674.8 199.9L673.7 196.6L673 198.4L672.1 200.8L672.4 204.4L672.4 208.1L672.4 211.8ZM679.8 214.5L680.9 213.8M683.4 212.7L684.5 212M687.1 211.4L688.2 210.7M690.7 209.6L691.8 208.9M693.5 206.7L694.6 205.9M696.8 204.1L697.9 203.3M646.8 247.5L647.4 247M649.6 244.2L650.1 243.7M651.4 240.6L651.9 240M639.9 251.4L640.4 250.9M711.8 188.7L713.3 187.8M716.4 194.9L717.3 195.6M436.7 272.3L439 272.7L439.6 271.2L437.8 270.1L436.7 272.3ZM412 284.2L412.9 282.8L412.1 281.1L410.7 280L411.6 282.4L412 284.2ZM420.7 277.8L421.1 276.3M478.4 291.6L479.3 289.7L478.6 287.9M468.3 293.9L469.8 292.1M465.6 300.6L466 299.3M466.5 297.3L466.9 296.3M461.9 328.8L465.2 326.6M472 293.8L473.5 293.2M428.1 290.1L428.8 289.4M424.4 295.8L424.8 295.4M425.9 293.2L426.2 293M483 283.3L483.5 281.5M480.2 274.5L481.1 273.6L480.6 274.1L480.2 274.5ZM477.1 238.9L477.7 237.8M490.3 225.9L492.1 225L491.2 224.8L490.3 225.9ZM495.2 227.7L496.3 226.1M472.9 225.5L474 224.6M545.6 274.1L545.9 275M545.6 276L545.9 276.8M545.6 277.4L545.9 278.3M546.7 282.9L547 283.8M546.7 284.8L547 285.6M546.7 286.6L547 287.4M546.7 288.4L547 289.3M546.7 290.3L547 291.1M546.7 292.1L547 292.9M546.7 293.9L547 294.8M546.7 295.8L547 296.6M546.7 297.3L547 298.1M582.4 271.4L582.7 273.2L582.2 274.9M581.8 276.3L582 276.9M584 282.8L584.4 283.7M582.4 279.3L582.6 279.6M504.9 248.1L505.1 248.6"/>
<path d="M502.7 318.2L504 320.9L504.8 324.6L503.7 326.4L503.1 329.2L501.8 332.8L500.4 336.5L499.1 340.2L498.5 342L495.8 342.9L493 342L492.1 339.2L491.8 336.5L493.6 333.7L493.4 331L493 328.2L494 325.9L496.7 324.9L498.9 323.3L500.4 321.5L501.8 319.1L502.7 318.2ZM491.8 317.6L492.3 317.2M493.8 318.5L494.3 318.2M495.1 319.6L495.6 319.3M514.1 334.8L514.6 334.5M517.8 333.4L518.3 333M514.1 304.6L514.6 304.2M484.4 306.8L484.8 307.9M538.4 386L541.2 386.4L540.6 387.3L538.8 387.1L538.4 386ZM633.1 262.2L635.8 262.4L636.4 265L634.9 267.2L635.3 270.1L637.7 270.8L639.5 272.7L638.6 272.3L636.7 270.8L634 271L633.3 269.6L632.2 268.6L632.7 266.3L633.1 262.2ZM635.8 283.3L638.6 282L639.5 280.6L642.2 278.4L644.1 281.5L643.7 284.6L642.2 285.1L641.9 283.7L639.5 284.8L635.8 283.3ZM640 273.2L642.2 273.6L642.2 276L641.3 277.4L640.4 276L640 273.2ZM635.8 274.5L637.7 275.1L638 277.8L636.7 278.7L635.8 276.9L635.8 274.5ZM627.2 280.6L629.4 278.7L631.3 275.4L630.3 277.3L627.2 280.6ZM633.1 271.6L634.9 271.9L634.4 273.6L633.1 271.6ZM612 293.4L613.1 292.5L615.7 293.4L616.2 291L619.4 290.3L621.2 287.9L623.9 286.1L626.3 283.3L628 284.6L630.3 286.6L628.5 288.3L628.1 290.6L630 294.3L628.1 294.7L627.6 297.6L625.8 298.9L625.4 302L624.8 303.5L622.1 303.5L621.2 302.2L619.4 302L617 302.2L614.2 301.3L613.9 298.9L612 297.1L612 293.4ZM587 285.9L591 286.6L593.2 289.2L596.1 291.6L598.3 292.5L601 294.9L602.3 297.6L603.8 299.5L606.5 301.3L606.5 303.5L606.2 306.8L604 306.6L602.9 305L599.8 303.1L597.4 300.7L596.1 298L593.7 295.6L593 293L591 291.6L589.1 289.4L587 285.9ZM605.1 308.6L606.9 307.2L611.1 308.1L615.3 307.9L618.8 309L622.1 310.5L621.9 312.1L617.5 311.4L612.9 310.5L610.2 310.5L607.3 309.7L605.1 308.6ZM622.3 311.2L624.1 311.2L623.4 312.3L622.3 311.2ZM624.8 311.6L626.1 311.6L625.6 312.5L624.8 311.6ZM626.3 311.7L628.5 311.2L630.3 311.9L628.1 312.7L626.3 311.7ZM631.8 311.7L634 311.6L637.3 311.4L635.8 312.3L632.2 312.3L631.8 311.7ZM630.3 313.6L632.5 313.6L633.6 314.9L631.3 314.3L630.3 313.6ZM638.6 315L640.4 313L642.2 312.1L645 311.6L644.1 312.7L641.3 314.1L639.5 315L638.6 315ZM631.8 294.7L633.6 293.8L637.7 294.5L641.3 293.2L640.4 295.4L637.7 295.4L634 295.4L632.5 296.1L633.1 298L634.9 297.6L638.2 297.6L638.4 298.4L635.3 299.5L637.3 302.2L637.3 304.4L635.3 305L634.9 302.6L633.8 301.1L632.7 301.7L632.9 306.2L631.3 306.2L631.3 302.6L630 301.1L631.8 297.1L631.8 294.7ZM645.9 292.8L646.8 295.2L648.3 295.6L646.8 297.6L646.3 295.8L645.9 292.8ZM646.8 302L650.5 301.5L651.9 302.8L648.6 302.6L646.8 302ZM643.3 302L645 302L644.6 303.1L643.3 302ZM605.3 299.3L607.5 300.7L606.9 301.7L605.3 299.3ZM590.6 293.9L591.2 293.2M593.4 298.4L593.9 297.6M595.2 300.7L595.7 300M599.6 306.1L600.1 305.3M609.8 301.5L610.4 300.7M587.9 291.4L588.4 290.6M582.2 274.1L582.7 273.4M582.6 276L583.1 275.2M584.2 282.9L584.8 282.2M652.3 297.6L655 296.9L657.8 297.6L658.3 300.7L660.5 302.2L664.8 298.9L667.9 300.2L670.6 300.9L674.3 302.4L677 303.3L679.4 306.2L682.5 307.2L683.1 309L681.6 308.6L684 311.2L686.7 314.1L688.5 315.4L685.3 315L682.5 314.5L679.8 311.7L677 310.3L675.2 311.7L674.3 313L671.5 313L668.8 311.4L666 311.4L664.8 309.9L666.6 309L665.1 306.2L661.5 304.6L657.8 303.3L655.6 303.5L654.1 301.5L656.9 300.7L654.7 300.2L652.3 298.7L652.3 297.6ZM684.3 306.4L687.1 306.2L689.8 305.3L691.3 304L690.4 306.2L688 307.7L685.3 307.5L684.3 306.4ZM688.5 301.1L691.7 303.1L692.6 304.8L690.7 302.8L688.5 301.1ZM695.7 306.2L697.7 308.6L696.6 307.7L695.7 306.2ZM699.9 309.9L701.4 310.6M702.6 310.8L704.1 311.6M705 313.6L706.5 314.3M706.9 312.7L708.3 313.4M708.1 315L709.6 315.8M681.6 300L683.1 300.7M717.8 324.2L718.4 324.8M718.9 325.9L719.5 326.4M720.6 328.6L721.1 329.2M722.4 331.9L723 332.5M712.7 333L715.5 334.7L718.2 337L716.4 336.5L713.6 334.7L712.7 333ZM737.1 328.4L739.3 328.4L739.3 329.5L737.2 329.5L737.1 328.4ZM739.8 326.6L742 326M96.7 321.1L97.4 320.6M98 321.8L98.7 321.4M100 322.4L100.7 321.9M91.8 335L92.4 334.6M94 330.3L94.6 329.8M138.8 328.4L139.5 328M135.2 326.8L135.8 326.3M156.2 312.7L156.9 312.2M158.1 314.1L158.7 313.7M147.1 325.5L147.7 325M150.7 327.3L151.4 326.9M154.4 330.1L155 329.6M158.6 335.6L159.2 335.1M120 335L120.6 334.6M124.4 292.7L125 292.2M212.2 345.9L212.9 345.4M174.3 342.2L175 341.7M729.2 293.6L729.8 293.1M725.9 283.1L726.5 282.7M719.1 279.6L719.8 279.2M702.1 283.5L702.7 283M690.4 282.6L691 282.1M677.6 271.4L678.2 270.9M679.2 268.3L679.9 267.8M658.7 282.6L659.4 282.1M718 297.1L718.7 296.6M740.5 311.7L741.2 311.3M89.4 295.8L90 295.3M119.6 298L120.3 297.5M98.6 313L99.2 312.6M268.3 358L268.9 357.5M265.9 344.4L266.5 343.9M366.7 265L367.4 264.5M369.5 268.6L370.1 268.2M368 265.7L368.7 265.2M382.3 244.2L382.9 243.8M384.1 244.8L384.8 244.3M386.9 243.9L387.5 243.4M379.7 243.5L380.4 243.1M381.4 236.2L382 235.7M365.8 226.8L366.5 226.4M361.2 225.5L361.9 225.1M355.4 223.7L356 223.2M293.9 236.9L294.5 236.5M481.7 382L482.3 381.5M547 288.8L547.7 288.4M546.1 295.2L546.8 294.8M364 402.2L364.6 401.7M363.1 405.1L363.7 404.6M329.2 407.3L329.9 406.8M716.4 389.1L717 388.7M89.4 376.8L90 376.4M739.8 387.3L740.4 386.8M86.7 349.7L87.3 349.2M671.2 250.7L671.8 250.2M672.8 246.6L673.4 246.2M652.7 248.8L653.3 248.4M694.2 251.6L694.9 251.1M620.6 337.4L621.5 336.1L623.9 334.7L626.7 333.9L630.3 332.8L634 332.1L636.4 329.2L636.2 327.3L638.6 327.9L638.9 325.9L641.3 324.6L643.1 322.2L645 321.8L646.8 323.3L649.6 323.5L650.1 320.9L651.4 319.1L653.2 318.5L655 318.5L655.4 316.9L657.8 318.2L660.5 318.2L662.9 318.5L662.4 320.9L660.5 323.3L662.4 325.1L665.1 326.8L667.9 328.2L670.2 328.2L671.5 324.6L671.5 320.9L672.1 319.1L673.4 316L675.2 319.1L675.7 322.4L678.5 323.5L678.8 326.4L680.1 330.6L682.5 331.7L684.9 333.4L686.2 336.5L688.5 337.8L688.5 339.2L690.7 341.1L692.6 342.9L692.9 345.7L693.5 348.4L692.6 352.1L691.7 355.4L689.5 358.1L688 361.3L687.1 364L686.7 364.9L683.4 365.7L680.7 367.7L677.9 366.4L677 365.8L675.2 367.3L671.5 366.4L668.8 364.9L667.9 362.2L666 361.3L665.1 359.4L664.8 357.6L664.9 356.1L664 357.6L664.2 360.3L662.9 360.9L661.5 359.4L660.5 360L658.7 356.7L656.9 355.2L653.2 353.9L648.6 354.1L643.1 355.4L639.5 356.7L638.6 358.3L634 358.3L631.3 359.1L628.5 360.3L624.8 360.2L623 359.1L623.4 357.6L624.3 355.8L623.9 353L623 350.3L622.1 347.5L621.2 345.7L619.9 343.8L620.3 342L620.3 340.2L620.6 337.4ZM662.6 361.6L664.8 361.6L664.2 362.2L662.6 361.6ZM651 317.2L653 316.9L651.9 317.8L651 317.2ZM662.4 321.5L663.3 322.2M677.4 370.8L680.7 371.7L683.8 371L684 373.5L683.1 375.4L680.7 376.1L678.8 374.6L678.3 373.2L677.4 370.8ZM676.1 369L676.3 369.5M683.4 369.5L684 370.2M728.6 359.2L730.7 360.7L732.5 363.1L734.3 363.5L734.7 365.1L738.3 365.1L739.3 365.3L738 368L736.5 368.2L736.1 370.1L733.4 372.4L732.5 371.9L732.8 370.1L731 368.6L730.7 368L732.1 366.8L732.5 364.9L731.4 363.1L729.2 360.3L728.6 359.2ZM728.8 370.4L731.4 371.9L731 373.2L729.2 375L728.8 376.5L726.1 377.4L725.5 379.6L724.6 380.5L721.9 381.6L719.1 380.9L717.3 380.1L719.1 378.3L720.9 376.8L723.7 375.4L726.1 373.5L727.4 371.3L728.8 370.4ZM719.5 382L720.4 382.5M83 439.8L85.3 439.4L87.6 439.6L89.9 439.4L92.2 439.9L94.7 440.2L97.3 439.7L99.8 439.6L102.4 439.9L105 439.9L107.3 440.3L109.6 440.1L111.8 439.4L114.1 439.6L116.3 438.8L118.8 439.2L121 438.4L123.3 437.9L125.6 438.1L127.8 437.4L130.1 437.3L132.4 437.7L134.7 437.5L137 436.8L139.2 436.1L141.6 436.1L145.2 434.6L147.6 434.9L149.8 434.5L152.1 434.5L154.4 434.1L156.6 433.3L159 433.8L161.2 432.7L163.5 432.8L166.3 433L169 432.5L171.8 432.2L174.5 432.2L176.8 432L179.2 432.1L181.4 431.2L183.7 431.1L186.4 430.9L189.2 431.4L191.9 431.3L194.7 431.7L197 431.3L199.2 431.4L201.5 431.4L203.8 431.9L206.3 431.9L208.7 432.4L211.1 433L213.4 432.9L215.7 433.4L218 433L220.3 433.3L223 433.1L225.8 433L227.4 431.4L229.4 430.4L231.9 430.1L234.3 429.6L236.8 429.8L239 429.6L241.3 429.3L243.6 429.9L245.9 429.7L248.2 429.9L250.5 429.6L252.8 430.1L255.1 430.2L257.5 431L260 430.4L262.4 431.1L264.9 431.1L267.3 430.3L269.7 430L272.2 429.7L274.6 429.8L277 429.1L279.8 428.1L282.5 427.3L284.4 426.1L286.3 425L288 423.6L289.9 420.3L292.6 417.7L295.3 415.7L297.8 415.3L299.9 413.9L302.2 413.1L304.5 412.6L308.2 412.2L307.2 413.5L303.6 414.6L300.8 416.3L299 418.1L296.5 419.2L294.4 420.9L297.2 423.6L299.9 426.4L300.8 429.1L300.8 431.9L301.8 434.3L303.8 435.2L306 435.8L308.2 436.5L310.7 436.8L313.3 437.1L315.9 437.2L318.5 437.7L321 438.5L323.3 438.1L325.5 438.9L327.8 438.5L330.1 438.8L332.4 438.5L334.7 438.5L337 439.3L339.3 439L341.6 439.2L343.9 438.8L346.1 438.3L348.4 438.3L350.6 437.5L352.8 437L355 436.6L357.1 435.8L359.4 435.5L361.8 434.6L364.2 433.5L366.7 432.8L369.2 432.5L371.4 431.9L373.6 430.8L375.9 430L378.1 429.5L380.5 429.9L382.7 428.9L385 428.7L387.7 427.6L390.5 426.7L392.9 425.8L395.4 425.8L397.9 425.4L400.3 425.1L402.7 424.8L405.2 424.5L407.8 423.5L410.7 423.1L412.5 424.2L414.9 424.2L417.4 423.8L419.8 424.3L422.3 424L424.7 423.8L427.1 424.2L429.6 423.9L432 423.3L434.5 423.6L436.9 423.2L439.4 423.5L441.8 423.8L444.2 423.7L446.7 424.1L449.1 424.2L451.4 424.2L453.7 424.5L456 424.5L458.3 424.3L460.6 424.2L462.9 424.1L465.1 423.3L467.4 423.1L470.1 422.4L472.9 422.1L476.6 423.6L479.3 424.4L482.1 424.2L485.7 422.7L488.1 421.6L490.7 421.4L493 420.5L495.5 420.3L497.9 419.4L500.4 419.6L503.2 418.7L505.9 417.2L508.6 417.5L511.3 417L514.1 417.9L516.8 418.5L519.5 419.3L522.3 419.8L525.1 420.2L527.8 419.9L530.3 419.8L532.7 420.3L535.1 420.5L537.9 421.1L540.6 421.8L544.3 423.6L548 424L550.8 423.9L553.5 423.1L556.3 422.2L558.9 420.9L561.8 420.3L564.4 419L566.9 419L569.3 419.2L571.8 418.7L574.5 418.8L577.2 418.5L580 418.4L582.7 417.9L585.5 417.8L588.2 418.3L590.6 417.5L593.1 417.2L595.6 417.2L598 416.9L600.4 416.6L602.9 416.8L605.3 417.6L607.7 417.7L610.2 418.1L612.7 417.8L615.1 417.4L617.5 416.8L619.9 417.5L622.4 417.8L624.8 418.3L627.3 417.8L629.7 418.6L632.2 418.3L634.6 418.4L637 418.1L639.5 417.9L641.9 418.3L644.4 418.7L646.8 418.8L649.2 418L651.7 418.2L654.1 417.6L656.6 417.2L659 416.9L661.5 417.2L663.9 417.4L666.3 418.3L668.8 418.5L671.2 418.4L673.6 419.1L676.1 419L678.7 420.1L681.6 420.3L684.3 420.9L687.1 421.6L689.5 421.7L692 421.9L694.4 422.1L696.8 422.7L699.2 423.1L701.7 423.2L704.1 424.1L706.6 424.9L709 425.4L711.5 425.1L713.9 425.3L716.4 425.8L719.2 426.1L721.8 427L724.6 427.3L721.9 430L719.2 431.6L716.4 432.8L712.7 434.6L711.8 437.4L714.1 438.5L716.4 439.6L718.8 439.2L721.3 439.4L723.7 439.9L726 439.7L728.3 440.1L730.6 440.1L732.8 439.9L735.1 440.1L737.4 439.6L739.7 439.8L742 439.8M280.7 422.7L283.5 423.1L286.2 423.6L287.1 426.4L284.4 429.1L281.9 428.8L279.4 428.9L277 428.2L275.2 425.4L278.1 424.4L280.7 422.7ZM298.1 410.8L300.4 410.4L302.7 410.6L306.3 409.9M310 408.4L311.8 408.2M327.4 407.3L330.1 407.5M285.3 420.9L287.1 419L290.2 416.8L293.5 415L296.8 413.5L299.9 412.4L303.6 411.5M288.9 421.8L291.7 419.4L294.4 417.2L297.5 415.7L301.2 414.3L305.4 413.2M278.9 425.4L282.5 424.2L285.3 422.3M302.7 414.1L299.9 417.2L298.1 419.9M309.1 412.1L310.4 412.4M710 418.1L711.4 419"/>
</g>
<path d="M101.3 461v-3.5M101.3 131v3.5M119.6 461v-3.5M119.6 131v3.5M137.9 461v-3.5M137.9 131v3.5M156.2 461v-3.5M156.2 131v3.5M174.5 461v-3.5M174.5 131v3.5M192.8 461v-7M192.8 131v7M211.1 461v-3.5M211.1 131v3.5M229.4 461v-3.5M229.4 131v3.5M247.8 461v-3.5M247.8 131v3.5M266.1 461v-3.5M266.1 131v3.5M284.4 461v-3.5M284.4 131v3.5M302.7 461v-7M302.7 131v7M321 461v-3.5M321 131v3.5M339.3 461v-3.5M339.3 131v3.5M357.6 461v-3.5M357.6 131v3.5M375.9 461v-3.5M375.9 131v3.5M394.2 461v-3.5M394.2 131v3.5M412.5 461v-7M412.5 131v7M430.8 461v-3.5M430.8 131v3.5M449.1 461v-3.5M449.1 131v3.5M467.4 461v-3.5M467.4 131v3.5M485.7 461v-3.5M485.7 131v3.5M504 461v-3.5M504 131v3.5M522.3 461v-7M522.3 131v7M540.6 461v-3.5M540.6 131v3.5M558.9 461v-3.5M558.9 131v3.5M577.2 461v-3.5M577.2 131v3.5M595.6 461v-3.5M595.6 131v3.5M613.9 461v-3.5M613.9 131v3.5M632.2 461v-7M632.2 131v7M650.5 461v-3.5M650.5 131v3.5M668.8 461v-3.5M668.8 131v3.5M687.1 461v-3.5M687.1 131v3.5M705.4 461v-3.5M705.4 131v3.5M723.7 461v-3.5M723.7 131v3.5M83 442.9h7.5M742 442.9h-7.5M83 424.5h3.5M742 424.5h-3.5M83 406.2h3.5M742 406.2h-3.5M83 387.8h3.5M742 387.8h-3.5M83 369.5h7.5M742 369.5h-7.5M83 351.2h3.5M742 351.2h-3.5M83 332.8h3.5M742 332.8h-3.5M83 314.5h3.5M742 314.5h-3.5M83 296.1h7.5M742 296.1h-7.5M83 277.8h3.5M742 277.8h-3.5M83 259.5h3.5M742 259.5h-3.5M83 241.1h3.5M742 241.1h-3.5M83 222.8h7.5M742 222.8h-7.5M83 204.4h3.5M742 204.4h-3.5M83 186.1h3.5M742 186.1h-3.5M83 167.8h3.5M742 167.8h-3.5M83 149.4h7.5M742 149.4h-7.5" stroke="#333" stroke-width="1" fill="none"/>
<rect x="83.1" y="130.6" width="658.5" height="330.4" fill="none" stroke="#555" stroke-width="1.2"/>
<text x="83" y="481" font-size="15" text-anchor="middle">180</text>
<text x="192.8" y="481" font-size="15" text-anchor="middle">120W</text>
<text x="302.7" y="481" font-size="15" text-anchor="middle">60W</text>
<text x="412.5" y="481" font-size="15" text-anchor="middle">0</text>
<text x="522.3" y="481" font-size="15" text-anchor="middle">60E</text>
<text x="632.2" y="481" font-size="15" text-anchor="middle">120E</text>
<text x="742" y="481" font-size="15" text-anchor="middle">180</text>
<text x="73.4" y="154.4" font-size="14.6" text-anchor="end">80N</text>
<text x="73.4" y="227.8" font-size="14.6" text-anchor="end">40N</text>
<text x="73.4" y="301.1" font-size="14.6" text-anchor="end">0</text>
<text x="73.4" y="374.5" font-size="14.6" text-anchor="end">40S</text>
<text x="73.4" y="447.9" font-size="14.6" text-anchor="end">80S</text>
<text x="412.5" y="81.2" font-size="29.6" text-anchor="middle" textLength="468" lengthAdjust="spacingAndGlyphs">Height perturbation at 500 hPa (in m)</text>
<text x="190.5" y="108.3" font-size="15.5" textLength="210.5" lengthAdjust="spacingAndGlyphs">rmsd= 1.79931 diff= 2.22379e-08</text>
<text x="322" y="120.3" font-size="17" textLength="183" lengthAdjust="spacingAndGlyphs">0616kyr BP - 0616kyr BP</text>
<text x="82.6" y="125.3" font-size="17" textLength="142" lengthAdjust="spacingAndGlyphs">Expt = teiuW-teioW</text>
<text x="741.5" y="123.8" font-size="17" text-anchor="end">JJA</text>
<rect x="85" y="503.4" width="38.7" height="11.8" fill="#8408e1"/>
<rect x="123.5" y="503.4" width="38.7" height="11.8" fill="#6b05de"/>
<rect x="162" y="503.4" width="38.7" height="11.8" fill="#400cdc"/>
<rect x="200.5" y="503.4" width="38.7" height="11.8" fill="#2324dc"/>
<rect x="239" y="503.4" width="38.7" height="11.8" fill="#0f50e1"/>
<rect x="277.6" y="503.4" width="38.7" height="11.8" fill="#0082e1"/>
<rect x="316.1" y="503.4" width="38.7" height="11.8" fill="#00a5e1"/>
<rect x="354.6" y="503.4" width="38.7" height="11.8" fill="#00c3dc"/>
<rect x="393.1" y="503.4" width="38.7" height="11.8" fill="#e6e6e6"/>
<rect x="431.6" y="503.4" width="38.7" height="11.8" fill="#14de7d"/>
<rect x="470.1" y="503.4" width="38.7" height="11.8" fill="#46d70a"/>
<rect x="508.6" y="503.4" width="38.7" height="11.8" fill="#aadc0f"/>
<rect x="547.1" y="503.4" width="38.7" height="11.8" fill="#dcc508"/>
<rect x="585.7" y="503.4" width="38.7" height="11.8" fill="#e29a0a"/>
<rect x="624.2" y="503.4" width="38.7" height="11.8" fill="#e36a05"/>
<rect x="662.7" y="503.4" width="38.7" height="11.8" fill="#df3a05"/>
<rect x="701.2" y="503.4" width="38.7" height="11.8" fill="#de0505"/>
<path d="M123.5 503.4V515.2M162 503.4V515.2M200.5 503.4V515.2M239 503.4V515.2M277.6 503.4V515.2M316.1 503.4V515.2M354.6 503.4V515.2M393.1 503.4V515.2M431.6 503.4V515.2M470.1 503.4V515.2M508.6 503.4V515.2M547.1 503.4V515.2M585.7 503.4V515.2M624.2 503.4V515.2M662.7 503.4V515.2M701.2 503.4V515.2" stroke="#222" stroke-width="0.9" fill="none"/>
<rect x="85" y="503.4" width="654.7" height="11.8" fill="none" stroke="#333" stroke-width="1"/>
<text x="123.5" y="532.3" font-size="18" text-anchor="middle">-200</text>
<text x="200.5" y="532.3" font-size="18" text-anchor="middle">-100</text>
<text x="277.6" y="532.3" font-size="18" text-anchor="middle">-20</text>
<text x="354.6" y="532.3" font-size="18" text-anchor="middle">-5</text>
<text x="431.6" y="532.3" font-size="18" text-anchor="middle">2</text>
<text x="508.6" y="532.3" font-size="18" text-anchor="middle">10</text>
<text x="585.7" y="532.3" font-size="18" text-anchor="middle">50</text>
<text x="662.7" y="532.3" font-size="18" text-anchor="middle">150</text>
</svg>
</body></html>
